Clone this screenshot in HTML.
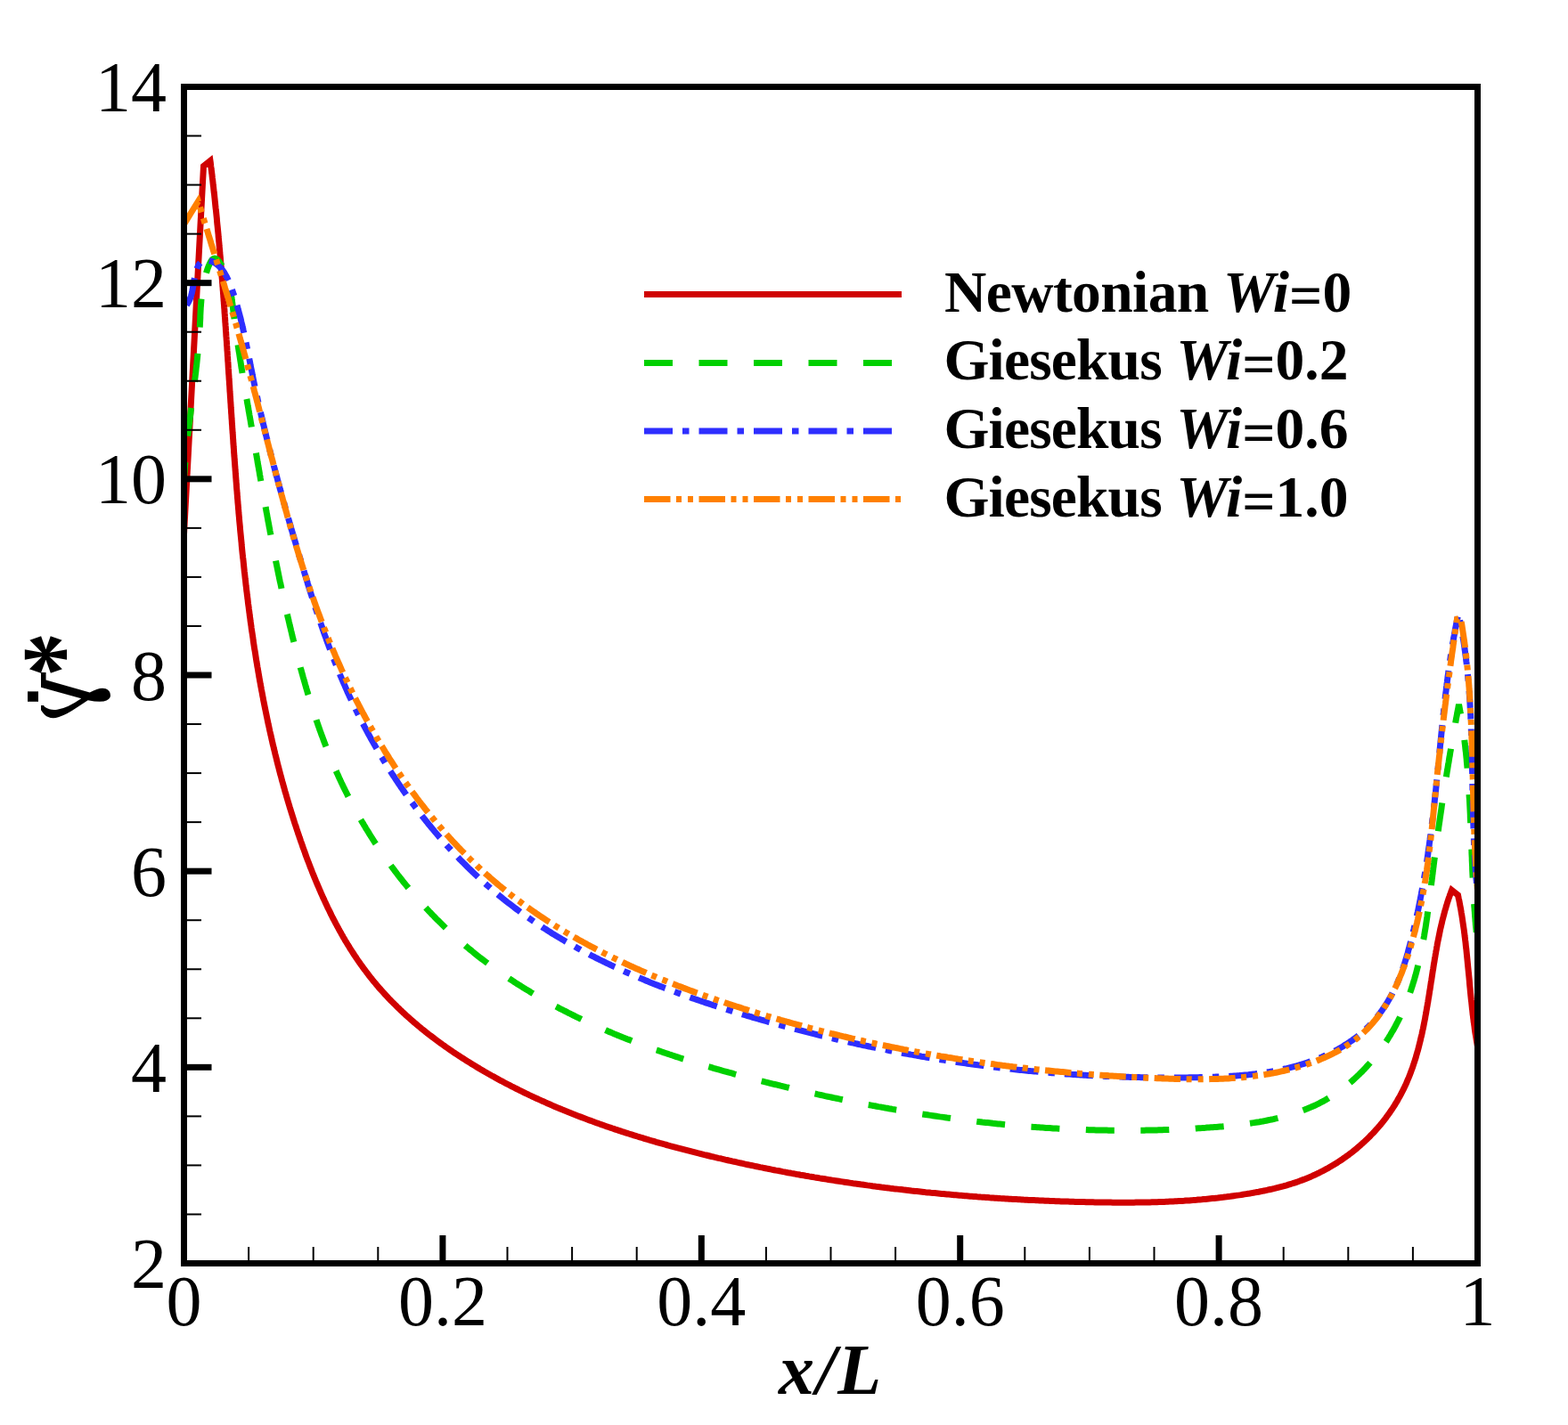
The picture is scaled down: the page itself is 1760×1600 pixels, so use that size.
<!DOCTYPE html>
<html><head><meta charset="utf-8"><style>
html,body{margin:0;padding:0;background:#fff;}
svg{display:block;}
.tl{font-family:"Liberation Serif","Times New Roman",serif;font-size:80px;fill:#000;}
.lg{font-family:"Liberation Serif","Times New Roman",serif;font-weight:bold;font-size:65.5px;fill:#000;}
.ax{font-family:"Liberation Serif","Times New Roman",serif;font-weight:bold;font-style:italic;font-size:80px;fill:#000;}
.yt{font-family:"Liberation Serif","Times New Roman",serif;font-weight:bold;font-size:80px;fill:#000;}
</style></head><body>
<svg width="1760" height="1600" viewBox="0 0 1760 1600">
<rect width="1760" height="1600" fill="#fff"/>
<defs><clipPath id="pc"><rect x="206.5" y="97.5" width="1452" height="1321"/></clipPath></defs>
<g clip-path="url(#pc)" fill="none" stroke-width="7" stroke-linejoin="miter" stroke-linecap="butt">
<path d="M206.5 600.0 L217.5 394.0 L228.5 186.5 L236.0 180.5 L236.3 182.5 L236.5 184.4 L236.7 186.4 L237.0 188.4 L237.2 190.4 L237.5 192.3 L237.7 194.3 L238.0 196.3 L238.2 198.3 L238.4 200.2 L238.7 202.2 L238.9 204.2 L239.1 206.2 L239.3 208.1 L239.6 210.1 L239.8 212.1 L240.0 214.1 L240.2 216.1 L240.5 218.0 L240.7 220.0 L240.9 222.0 L241.1 224.0 L241.3 226.0 L241.5 227.9 L241.7 229.9 L241.9 231.9 L242.1 233.9 L242.4 235.9 L242.6 237.9 L242.8 239.8 L243.0 241.8 L243.2 243.8 L243.4 245.8 L243.5 247.8 L243.7 249.8 L243.9 251.8 L244.1 253.7 L244.3 255.7 L244.5 257.7 L244.7 259.7 L244.9 261.7 L245.1 263.7 L245.2 265.7 L245.4 267.7 L245.6 269.7 L245.8 271.6 L246.0 273.6 L246.1 275.6 L246.3 277.6 L246.5 279.6 L246.7 281.6 L246.8 283.6 L247.0 285.6 L247.2 287.6 L247.4 289.6 L247.5 291.6 L247.7 293.6 L247.9 295.5 L248.0 297.5 L248.2 299.5 L248.3 301.5 L248.5 303.5 L248.7 305.5 L248.8 307.5 L249.0 309.5 L249.1 311.5 L249.3 313.5 L249.5 315.5 L249.6 317.5 L249.8 319.5 L249.9 321.5 L250.1 323.5 L250.2 325.5 L250.4 327.5 L250.5 329.5 L250.7 331.5 L250.8 333.5 L251.0 335.5 L251.1 337.5 L251.3 339.5 L251.4 341.5 L251.6 343.5 L251.7 345.5 L251.9 347.5 L252.0 349.5 L252.1 351.5 L252.3 353.5 L252.4 355.5 L252.6 357.5 L252.7 359.5 L252.8 361.5 L253.0 363.5 L253.1 365.5 L253.3 367.5 L253.4 369.5 L253.5 371.5 L253.7 373.5 L253.8 375.5 L253.9 377.5 L254.1 379.5 L254.2 381.5 L254.4 383.5 L254.5 385.5 L254.6 387.5 L254.8 389.5 L254.9 391.5 L255.0 393.5 L255.2 395.5 L255.3 397.5 L255.4 399.5 L255.6 401.5 L255.7 403.5 L255.8 405.5 L256.0 407.5 L256.1 409.5 L256.2 411.5 L256.3 413.5 L256.5 415.6 L256.6 417.6 L256.7 419.6 L256.9 421.6 L257.0 423.6 L257.1 425.6 L257.3 427.6 L257.4 429.6 L257.5 431.6 L257.7 433.6 L257.8 435.6 L257.9 437.6 L258.0 439.6 L258.2 441.6 L258.3 443.6 L258.4 445.6 L258.6 447.6 L258.7 449.6 L258.8 451.6 L259.0 453.6 L259.1 455.6 L259.2 457.7 L259.4 459.7 L259.5 461.7 L259.6 463.7 L259.8 465.7 L259.9 467.7 L260.0 469.7 L260.2 471.7 L260.3 473.7 L260.4 475.7 L260.6 477.7 L260.7 479.7 L260.8 481.7 L261.0 483.7 L261.1 485.7 L261.3 487.7 L261.4 489.7 L261.5 491.7 L261.7 493.7 L261.8 495.7 L261.9 497.8 L262.1 499.8 L262.2 501.8 L262.4 503.8 L262.5 505.8 L262.6 507.8 L262.8 509.8 L262.9 511.8 L263.1 513.8 L263.2 515.8 L263.4 517.8 L263.5 519.8 L263.7 521.8 L263.8 523.8 L264.0 525.8 L264.1 527.8 L264.3 529.8 L264.4 531.8 L264.6 533.8 L264.7 535.8 L264.9 537.8 L265.0 539.8 L265.2 541.8 L265.3 543.8 L265.5 545.8 L265.6 547.8 L265.8 549.8 L266.0 551.8 L266.1 553.8 L266.3 555.8 L266.4 557.8 L266.6 559.8 L266.8 561.8 L266.9 563.8 L267.1 565.8 L267.3 567.8 L267.4 569.8 L267.6 571.8 L267.8 573.8 L267.9 575.8 L268.1 577.8 L268.3 579.8 L268.5 581.8 L268.6 583.8 L268.8 585.8 L269.0 587.8 L269.2 589.8 L269.4 591.8 L269.5 593.8 L269.7 595.8 L269.9 597.8 L270.1 599.8 L270.3 601.8 L270.5 603.8 L270.7 605.8 L270.9 607.8 L271.1 609.8 L271.2 611.8 L271.4 613.8 L271.6 615.8 L271.8 617.8 L272.0 619.8 L272.2 621.8 L272.4 623.7 L272.6 625.7 L272.9 627.7 L273.1 629.7 L273.3 631.7 L273.5 633.7 L273.7 635.7 L273.9 637.7 L274.1 639.7 L274.3 641.7 L274.6 643.7 L274.8 645.7 L275.0 647.6 L275.2 649.6 L275.5 651.6 L275.7 653.6 L275.9 655.6 L276.1 657.6 L276.4 659.6 L276.6 661.6 L276.8 663.5 L277.1 665.5 L277.3 667.5 L277.6 669.5 L277.8 671.5 L278.1 673.5 L278.3 675.5 L278.5 677.4 L278.8 679.4 L279.1 681.4 L279.3 683.4 L279.6 685.4 L279.8 687.4 L280.1 689.3 L280.3 691.3 L280.6 693.3 L280.9 695.3 L281.1 697.3 L281.4 699.2 L281.7 701.2 L282.0 703.2 L282.2 705.2 L282.5 707.2 L282.8 709.1 L283.1 711.1 L283.4 713.1 L283.7 715.1 L284.0 717.0 L284.2 719.0 L284.5 721.0 L284.8 723.0 L285.1 724.9 L285.4 726.9 L285.7 728.9 L286.1 730.9 L286.4 732.8 L286.7 734.8 L287.0 736.8 L287.3 738.7 L287.6 740.7 L287.9 742.7 L288.3 744.7 L288.6 746.6 L288.9 748.6 L289.3 750.6 L289.6 752.5 L289.9 754.5 L290.3 756.5 L290.6 758.4 L290.9 760.4 L291.3 762.4 L291.6 764.3 L292.0 766.3 L292.3 768.2 L292.7 770.2 L293.1 772.2 L293.4 774.1 L293.8 776.1 L294.2 778.0 L294.5 780.0 L294.9 782.0 L295.3 783.9 L295.6 785.9 L296.0 787.8 L296.4 789.8 L296.8 791.8 L297.2 793.7 L297.6 795.7 L298.0 797.6 L298.4 799.6 L298.8 801.5 L299.2 803.5 L299.6 805.4 L300.0 807.4 L300.4 809.3 L300.8 811.3 L301.2 813.2 L301.7 815.2 L302.1 817.1 L302.5 819.1 L302.9 821.0 L303.4 823.0 L303.8 824.9 L304.3 826.9 L304.7 828.8 L305.1 830.7 L305.6 832.7 L306.0 834.6 L306.5 836.6 L307.0 838.5 L307.4 840.5 L307.9 842.4 L308.4 844.3 L308.8 846.3 L309.3 848.2 L309.8 850.1 L310.3 852.1 L310.7 854.0 L311.2 855.9 L311.7 857.9 L312.2 859.8 L312.7 861.7 L313.2 863.7 L313.7 865.6 L314.2 867.5 L314.7 869.5 L315.3 871.4 L315.8 873.3 L316.3 875.3 L316.8 877.2 L317.4 879.1 L317.9 881.0 L318.4 883.0 L319.0 884.9 L319.5 886.8 L320.0 888.7 L320.6 890.6 L321.2 892.6 L321.7 894.5 L322.3 896.4 L322.8 898.3 L323.4 900.2 L324.0 902.2 L324.6 904.1 L325.1 906.0 L325.7 907.9 L326.3 909.8 L326.9 911.7 L327.5 913.6 L328.1 915.6 L328.7 917.5 L329.3 919.4 L329.9 921.3 L330.5 923.2 L331.1 925.1 L331.8 927.0 L332.4 928.9 L333.0 930.8 L333.6 932.7 L334.3 934.6 L334.9 936.5 L335.6 938.4 L336.2 940.3 L336.9 942.2 L337.5 944.1 L338.2 946.0 L338.9 947.9 L339.5 949.8 L340.2 951.7 L340.9 953.6 L341.6 955.5 L342.3 957.4 L342.9 959.3 L343.6 961.2 L344.3 963.1 L345.0 964.9 L345.7 966.8 L346.5 968.7 L347.2 970.6 L347.9 972.5 L348.6 974.4 L349.4 976.2 L350.1 978.1 L350.8 980.0 L351.6 981.9 L352.3 983.7 L353.1 985.6 L353.9 987.5 L354.6 989.3 L355.4 991.2 L356.2 993.0 L357.0 994.9 L357.8 996.7 L358.6 998.6 L359.4 1000.4 L360.2 1002.3 L361.0 1004.1 L361.8 1005.9 L362.6 1007.8 L363.5 1009.6 L364.3 1011.4 L365.2 1013.3 L366.0 1015.1 L366.9 1016.9 L367.7 1018.7 L368.6 1020.5 L369.5 1022.3 L370.4 1024.1 L371.2 1025.9 L372.1 1027.7 L373.0 1029.5 L373.9 1031.3 L374.9 1033.1 L375.8 1034.8 L376.7 1036.6 L377.7 1038.4 L378.6 1040.1 L379.6 1041.9 L380.5 1043.7 L381.5 1045.4 L382.5 1047.1 L383.4 1048.9 L384.4 1050.6 L385.4 1052.4 L386.4 1054.1 L387.4 1055.8 L388.5 1057.5 L389.5 1059.2 L390.5 1060.9 L391.6 1062.6 L392.6 1064.3 L393.7 1066.0 L394.7 1067.7 L395.8 1069.3 L396.9 1071.0 L398.0 1072.7 L399.1 1074.3 L400.2 1076.0 L401.3 1077.6 L402.4 1079.3 L403.6 1080.9 L404.7 1082.5 L405.9 1084.1 L407.0 1085.7 L408.2 1087.3 L409.4 1088.9 L410.6 1090.5 L411.8 1092.1 L413.0 1093.7 L414.2 1095.3 L415.4 1096.8 L416.6 1098.4 L417.9 1099.9 L419.1 1101.5 L420.4 1103.0 L421.7 1104.5 L422.9 1106.0 L424.2 1107.5 L425.5 1109.1 L426.8 1110.5 L428.2 1112.0 L429.5 1113.5 L430.8 1115.0 L432.2 1116.5 L433.5 1117.9 L434.9 1119.4 L436.2 1120.8 L437.6 1122.3 L439.0 1123.7 L440.4 1125.1 L441.8 1126.5 L443.2 1127.9 L444.6 1129.3 L446.0 1130.7 L447.5 1132.1 L448.9 1133.5 L450.4 1134.9 L451.8 1136.2 L453.3 1137.6 L454.7 1139.0 L456.2 1140.3 L457.7 1141.6 L459.2 1143.0 L460.7 1144.3 L462.2 1145.6 L463.7 1146.9 L465.2 1148.3 L466.8 1149.5 L468.3 1150.8 L469.8 1152.1 L471.4 1153.4 L472.9 1154.7 L474.5 1155.9 L476.1 1157.2 L477.6 1158.5 L479.2 1159.7 L480.8 1161.0 L482.4 1162.2 L484.0 1163.4 L485.6 1164.6 L487.2 1165.8 L488.8 1167.1 L490.4 1168.3 L492.0 1169.5 L493.6 1170.6 L495.3 1171.8 L496.9 1173.0 L498.6 1174.2 L500.2 1175.3 L501.9 1176.5 L503.5 1177.6 L505.2 1178.8 L506.8 1179.9 L508.5 1181.1 L510.2 1182.2 L511.9 1183.3 L513.5 1184.4 L515.2 1185.5 L516.9 1186.6 L518.6 1187.7 L520.3 1188.8 L522.0 1189.9 L523.7 1191.0 L525.4 1192.1 L527.1 1193.1 L528.9 1194.2 L530.6 1195.3 L532.3 1196.3 L534.0 1197.3 L535.7 1198.4 L537.5 1199.4 L539.2 1200.4 L541.0 1201.5 L542.7 1202.5 L544.4 1203.5 L546.2 1204.5 L547.9 1205.5 L549.7 1206.5 L551.4 1207.5 L553.2 1208.5 L555.0 1209.4 L556.7 1210.4 L558.5 1211.4 L560.2 1212.3 L562.0 1213.3 L563.8 1214.2 L565.6 1215.2 L567.3 1216.1 L569.1 1217.0 L570.9 1218.0 L572.7 1218.9 L574.4 1219.8 L576.2 1220.7 L578.0 1221.6 L579.8 1222.5 L581.6 1223.4 L583.4 1224.3 L585.2 1225.2 L587.0 1226.1 L588.8 1227.0 L590.6 1227.8 L592.4 1228.7 L594.2 1229.6 L596.0 1230.4 L597.8 1231.3 L599.6 1232.1 L601.5 1233.0 L603.3 1233.8 L605.1 1234.6 L606.9 1235.4 L608.7 1236.3 L610.6 1237.1 L612.4 1237.9 L614.2 1238.7 L616.1 1239.5 L617.9 1240.3 L619.7 1241.1 L621.6 1241.9 L623.4 1242.7 L625.2 1243.5 L627.1 1244.2 L628.9 1245.0 L630.8 1245.8 L632.6 1246.5 L634.5 1247.3 L636.3 1248.0 L638.2 1248.8 L640.0 1249.5 L641.9 1250.3 L643.7 1251.0 L645.6 1251.7 L647.5 1252.5 L649.3 1253.2 L651.2 1253.9 L653.1 1254.6 L654.9 1255.3 L656.8 1256.0 L658.7 1256.7 L660.5 1257.4 L662.4 1258.1 L664.3 1258.8 L666.2 1259.5 L668.1 1260.2 L669.9 1260.9 L671.8 1261.5 L673.7 1262.2 L675.6 1262.9 L677.5 1263.5 L679.4 1264.2 L681.2 1264.9 L683.1 1265.5 L685.0 1266.1 L686.9 1266.8 L688.8 1267.4 L690.7 1268.1 L692.6 1268.7 L694.5 1269.3 L696.4 1269.9 L698.3 1270.6 L700.2 1271.2 L702.1 1271.8 L704.0 1272.4 L705.9 1273.0 L707.8 1273.6 L709.7 1274.2 L711.6 1274.8 L713.6 1275.4 L715.5 1276.0 L717.4 1276.6 L719.3 1277.2 L721.2 1277.7 L723.1 1278.3 L725.0 1278.9 L727.0 1279.5 L728.9 1280.0 L730.8 1280.6 L732.7 1281.1 L734.6 1281.7 L736.6 1282.3 L738.5 1282.8 L740.4 1283.4 L742.3 1283.9 L744.3 1284.4 L746.2 1285.0 L748.1 1285.5 L750.0 1286.0 L752.0 1286.6 L753.9 1287.1 L755.8 1287.6 L757.8 1288.1 L759.7 1288.7 L761.6 1289.2 L763.6 1289.7 L765.5 1290.2 L767.4 1290.7 L769.4 1291.2 L771.3 1291.7 L773.3 1292.2 L775.2 1292.7 L777.1 1293.2 L779.1 1293.7 L781.0 1294.2 L783.0 1294.7 L784.9 1295.1 L786.8 1295.6 L788.8 1296.1 L790.7 1296.6 L792.7 1297.0 L794.6 1297.5 L796.6 1298.0 L798.5 1298.5 L800.5 1298.9 L802.4 1299.4 L804.4 1299.8 L806.3 1300.3 L808.2 1300.7 L810.2 1301.2 L812.1 1301.6 L814.1 1302.1 L816.0 1302.5 L818.0 1303.0 L820.0 1303.4 L821.9 1303.9 L823.9 1304.3 L825.8 1304.7 L827.8 1305.2 L829.7 1305.6 L831.7 1306.0 L833.6 1306.4 L835.6 1306.9 L837.5 1307.3 L839.5 1307.7 L841.4 1308.1 L843.4 1308.5 L845.4 1308.9 L847.3 1309.3 L849.3 1309.7 L851.2 1310.1 L853.2 1310.6 L855.2 1310.9 L857.1 1311.3 L859.1 1311.7 L861.0 1312.1 L863.0 1312.5 L865.0 1312.9 L866.9 1313.3 L868.9 1313.7 L870.9 1314.1 L872.8 1314.4 L874.8 1314.8 L876.7 1315.2 L878.7 1315.6 L880.7 1315.9 L882.6 1316.3 L884.6 1316.7 L886.6 1317.0 L888.5 1317.4 L890.5 1317.7 L892.5 1318.1 L894.4 1318.5 L896.4 1318.8 L898.4 1319.2 L900.3 1319.5 L902.3 1319.8 L904.3 1320.2 L906.3 1320.5 L908.2 1320.9 L910.2 1321.2 L912.2 1321.5 L914.1 1321.9 L916.1 1322.2 L918.1 1322.5 L920.1 1322.9 L922.0 1323.2 L924.0 1323.5 L926.0 1323.8 L928.0 1324.1 L929.9 1324.5 L931.9 1324.8 L933.9 1325.1 L935.9 1325.4 L937.8 1325.7 L939.8 1326.0 L941.8 1326.3 L943.8 1326.6 L945.7 1326.9 L947.7 1327.2 L949.7 1327.5 L951.7 1327.8 L953.7 1328.1 L955.6 1328.4 L957.6 1328.7 L959.6 1328.9 L961.6 1329.2 L963.6 1329.5 L965.5 1329.8 L967.5 1330.1 L969.5 1330.3 L971.5 1330.6 L973.5 1330.9 L975.4 1331.1 L977.4 1331.4 L979.4 1331.7 L981.4 1331.9 L983.4 1332.2 L985.4 1332.4 L987.3 1332.7 L989.3 1333.0 L991.3 1333.2 L993.3 1333.5 L995.3 1333.7 L997.3 1333.9 L999.3 1334.2 L1001.2 1334.4 L1003.2 1334.7 L1005.2 1334.9 L1007.2 1335.1 L1009.2 1335.4 L1011.2 1335.6 L1013.2 1335.8 L1015.2 1336.1 L1017.1 1336.3 L1019.1 1336.5 L1021.1 1336.7 L1023.1 1337.0 L1025.1 1337.2 L1027.1 1337.4 L1029.1 1337.6 L1031.1 1337.8 L1033.1 1338.0 L1035.0 1338.2 L1037.0 1338.4 L1039.0 1338.7 L1041.0 1338.9 L1043.0 1339.1 L1045.0 1339.3 L1047.0 1339.4 L1049.0 1339.6 L1051.0 1339.8 L1053.0 1340.0 L1055.0 1340.2 L1057.0 1340.4 L1059.0 1340.6 L1060.9 1340.8 L1062.9 1341.0 L1064.9 1341.1 L1066.9 1341.3 L1068.9 1341.5 L1070.9 1341.7 L1072.9 1341.8 L1074.9 1342.0 L1076.9 1342.2 L1078.9 1342.3 L1080.9 1342.5 L1082.9 1342.7 L1084.9 1342.8 L1086.9 1343.0 L1088.9 1343.2 L1090.9 1343.3 L1092.9 1343.5 L1094.9 1343.6 L1096.9 1343.8 L1098.9 1343.9 L1100.8 1344.1 L1102.8 1344.2 L1104.8 1344.3 L1106.8 1344.5 L1108.8 1344.6 L1110.8 1344.8 L1112.8 1344.9 L1114.8 1345.0 L1116.8 1345.2 L1118.8 1345.3 L1120.8 1345.4 L1122.8 1345.6 L1124.8 1345.7 L1126.8 1345.8 L1128.8 1345.9 L1130.8 1346.0 L1132.8 1346.2 L1134.8 1346.3 L1136.8 1346.4 L1138.8 1346.5 L1140.8 1346.6 L1142.8 1346.7 L1144.8 1346.8 L1146.8 1346.9 L1148.8 1347.1 L1150.8 1347.2 L1152.8 1347.3 L1154.8 1347.4 L1156.8 1347.5 L1158.8 1347.6 L1160.8 1347.6 L1162.8 1347.7 L1164.8 1347.8 L1166.8 1347.9 L1168.8 1348.0 L1170.8 1348.1 L1172.8 1348.2 L1174.8 1348.3 L1176.8 1348.3 L1178.8 1348.4 L1180.8 1348.5 L1182.8 1348.6 L1184.8 1348.7 L1186.8 1348.7 L1188.8 1348.8 L1190.8 1348.9 L1192.8 1348.9 L1194.8 1349.0 L1196.8 1349.1 L1198.8 1349.1 L1200.8 1349.2 L1202.8 1349.2 L1204.8 1349.3 L1206.8 1349.4 L1208.8 1349.4 L1210.9 1349.5 L1212.9 1349.5 L1214.9 1349.6 L1216.9 1349.6 L1218.9 1349.7 L1220.9 1349.7 L1222.9 1349.8 L1224.9 1349.8 L1226.9 1349.8 L1228.9 1349.9 L1230.9 1349.9 L1232.9 1350.0 L1234.9 1350.0 L1236.9 1350.0 L1238.9 1350.0 L1240.9 1350.1 L1242.9 1350.1 L1244.9 1350.1 L1246.9 1350.1 L1248.9 1350.2 L1250.9 1350.2 L1252.9 1350.2 L1254.9 1350.2 L1256.9 1350.2 L1258.9 1350.2 L1260.9 1350.2 L1262.9 1350.2 L1264.9 1350.2 L1266.9 1350.2 L1268.9 1350.2 L1270.9 1350.2 L1272.9 1350.2 L1274.9 1350.1 L1276.9 1350.1 L1278.9 1350.1 L1280.9 1350.1 L1282.9 1350.0 L1284.9 1350.0 L1286.9 1350.0 L1288.9 1349.9 L1290.9 1349.9 L1292.9 1349.8 L1294.9 1349.8 L1296.9 1349.7 L1298.9 1349.7 L1300.9 1349.6 L1302.9 1349.5 L1304.9 1349.5 L1306.9 1349.4 L1308.9 1349.3 L1310.9 1349.2 L1312.9 1349.1 L1314.9 1349.0 L1316.9 1348.9 L1318.9 1348.8 L1321.0 1348.7 L1323.0 1348.6 L1325.0 1348.5 L1327.0 1348.4 L1329.0 1348.3 L1331.0 1348.1 L1333.0 1348.0 L1335.0 1347.9 L1337.0 1347.7 L1339.0 1347.6 L1341.0 1347.4 L1343.0 1347.3 L1344.9 1347.1 L1346.9 1346.9 L1348.9 1346.8 L1350.9 1346.6 L1352.9 1346.4 L1354.9 1346.2 L1356.9 1346.0 L1358.9 1345.8 L1360.9 1345.6 L1362.9 1345.4 L1364.9 1345.2 L1366.9 1345.0 L1368.9 1344.7 L1370.9 1344.5 L1372.9 1344.3 L1374.9 1344.0 L1376.9 1343.8 L1378.9 1343.5 L1380.9 1343.3 L1382.9 1343.0 L1384.9 1342.7 L1386.9 1342.4 L1388.9 1342.1 L1390.9 1341.9 L1392.9 1341.6 L1394.9 1341.2 L1396.9 1340.9 L1398.9 1340.6 L1400.9 1340.3 L1402.9 1340.0 L1404.9 1339.6 L1406.9 1339.3 L1408.9 1338.9 L1410.8 1338.5 L1412.8 1338.2 L1414.8 1337.8 L1416.8 1337.4 L1418.8 1337.0 L1420.8 1336.6 L1422.8 1336.2 L1424.7 1335.7 L1426.7 1335.3 L1428.7 1334.8 L1430.6 1334.4 L1432.6 1333.9 L1434.6 1333.4 L1436.5 1332.9 L1438.5 1332.4 L1440.4 1331.9 L1442.4 1331.3 L1444.3 1330.8 L1446.2 1330.2 L1448.1 1329.6 L1450.1 1329.0 L1452.0 1328.4 L1453.9 1327.8 L1455.8 1327.2 L1457.7 1326.5 L1459.5 1325.8 L1461.4 1325.1 L1463.3 1324.4 L1465.1 1323.7 L1467.0 1322.9 L1468.8 1322.2 L1470.7 1321.4 L1472.5 1320.6 L1474.3 1319.8 L1476.1 1319.0 L1477.9 1318.1 L1479.7 1317.3 L1481.5 1316.4 L1483.3 1315.5 L1485.0 1314.6 L1486.8 1313.7 L1488.5 1312.7 L1490.3 1311.8 L1492.0 1310.8 L1493.7 1309.8 L1495.4 1308.8 L1497.1 1307.8 L1498.8 1306.7 L1500.5 1305.7 L1502.1 1304.6 L1503.8 1303.6 L1505.4 1302.5 L1507.1 1301.4 L1508.7 1300.2 L1510.3 1299.1 L1511.9 1297.9 L1513.5 1296.8 L1515.1 1295.6 L1516.6 1294.4 L1518.2 1293.2 L1519.7 1292.0 L1521.3 1290.7 L1522.8 1289.5 L1524.3 1288.2 L1525.8 1286.9 L1527.3 1285.6 L1528.7 1284.3 L1530.2 1283.0 L1531.6 1281.7 L1533.1 1280.3 L1534.5 1279.0 L1535.9 1277.6 L1537.3 1276.2 L1538.6 1274.8 L1540.0 1273.4 L1541.4 1272.0 L1542.7 1270.6 L1544.0 1269.1 L1545.3 1267.7 L1546.6 1266.2 L1547.9 1264.7 L1549.2 1263.2 L1550.4 1261.7 L1551.7 1260.2 L1552.9 1258.7 L1554.1 1257.1 L1555.3 1255.6 L1556.4 1254.0 L1557.6 1252.4 L1558.8 1250.8 L1559.9 1249.2 L1561.0 1247.6 L1562.1 1246.0 L1563.2 1244.4 L1564.3 1242.7 L1565.3 1241.1 L1566.3 1239.4 L1567.4 1237.7 L1568.4 1236.0 L1569.3 1234.3 L1570.3 1232.6 L1571.3 1230.9 L1572.2 1229.2 L1573.1 1227.4 L1574.0 1225.7 L1574.9 1223.9 L1575.8 1222.2 L1576.6 1220.4 L1577.5 1218.6 L1578.3 1216.8 L1579.1 1215.0 L1579.8 1213.2 L1580.6 1211.4 L1581.4 1209.5 L1582.1 1207.7 L1582.8 1205.9 L1583.5 1204.0 L1584.2 1202.1 L1584.9 1200.3 L1585.6 1198.4 L1586.2 1196.5 L1586.8 1194.6 L1587.5 1192.7 L1588.1 1190.8 L1588.7 1188.9 L1589.3 1187.0 L1589.8 1185.0 L1590.4 1183.1 L1590.9 1181.2 L1591.5 1179.2 L1592.0 1177.3 L1592.5 1175.3 L1593.0 1173.3 L1593.5 1171.4 L1594.0 1169.4 L1594.5 1167.4 L1594.9 1165.4 L1595.4 1163.5 L1595.9 1161.5 L1596.3 1159.5 L1596.7 1157.5 L1597.2 1155.5 L1597.6 1153.5 L1598.0 1151.5 L1598.4 1149.4 L1598.8 1147.4 L1599.2 1145.4 L1599.6 1143.4 L1599.9 1141.4 L1600.3 1139.3 L1600.7 1137.3 L1601.0 1135.3 L1601.4 1133.2 L1601.7 1131.2 L1602.1 1129.2 L1602.4 1127.1 L1602.8 1125.1 L1603.1 1123.0 L1603.4 1121.0 L1603.8 1119.0 L1604.1 1116.9 L1604.4 1114.9 L1604.7 1112.8 L1605.1 1110.8 L1605.4 1108.7 L1605.7 1106.7 L1606.0 1104.7 L1606.3 1102.6 L1606.7 1100.6 L1607.0 1098.5 L1607.3 1096.5 L1607.6 1094.4 L1607.9 1092.4 L1608.2 1090.4 L1608.6 1088.3 L1608.9 1086.3 L1609.2 1084.3 L1609.5 1082.2 L1609.9 1080.2 L1610.2 1078.2 L1610.5 1076.2 L1610.9 1074.1 L1611.2 1072.1 L1611.6 1070.1 L1611.9 1068.1 L1612.3 1066.1 L1612.6 1064.1 L1613.0 1062.1 L1613.3 1060.1 L1613.7 1058.1 L1614.1 1056.1 L1614.5 1054.2 L1614.9 1052.2 L1615.3 1050.2 L1615.7 1048.3 L1616.1 1046.3 L1616.5 1044.3 L1616.9 1042.4 L1617.4 1040.4 L1617.8 1038.5 L1618.3 1036.6 L1618.7 1034.7 L1619.2 1032.7 L1619.7 1030.8 L1620.2 1028.9 L1620.7 1027.0 L1621.2 1025.1 L1621.7 1023.2 L1622.2 1021.4 L1622.8 1019.5 L1623.3 1017.6 L1623.9 1015.8 L1624.4 1013.9 L1625.0 1012.1 L1625.6 1010.3 L1626.2 1008.5 L1626.9 1006.6 L1627.5 1004.8 L1628.2 1003.1 L1628.8 1001.3 L1629.5 999.5 L1636.5 1005.0 L1636.9 1007.0 L1637.3 1009.0 L1637.8 1011.0 L1638.2 1013.0 L1638.5 1015.0 L1638.9 1017.0 L1639.3 1019.0 L1639.7 1021.0 L1640.0 1023.1 L1640.3 1025.1 L1640.7 1027.1 L1641.0 1029.1 L1641.3 1031.1 L1641.6 1033.1 L1641.9 1035.2 L1642.2 1037.2 L1642.5 1039.2 L1642.8 1041.2 L1643.1 1043.2 L1643.4 1045.3 L1643.6 1047.3 L1643.9 1049.3 L1644.1 1051.3 L1644.4 1053.4 L1644.6 1055.4 L1644.9 1057.4 L1645.1 1059.4 L1645.3 1061.5 L1645.5 1063.5 L1645.8 1065.5 L1646.0 1067.5 L1646.2 1069.6 L1646.4 1071.6 L1646.6 1073.6 L1646.8 1075.7 L1647.0 1077.7 L1647.2 1079.7 L1647.4 1081.8 L1647.6 1083.8 L1647.8 1085.8 L1648.0 1087.9 L1648.2 1089.9 L1648.4 1091.9 L1648.6 1094.0 L1648.8 1096.0 L1649.0 1098.0 L1649.2 1100.1 L1649.4 1102.1 L1649.5 1104.1 L1649.7 1106.2 L1649.9 1108.2 L1650.1 1110.2 L1650.3 1112.3 L1650.5 1114.3 L1650.7 1116.3 L1650.9 1118.4 L1651.1 1120.4 L1651.3 1122.4 L1651.6 1124.5 L1651.8 1126.5 L1652.0 1128.5 L1652.2 1130.5 L1652.4 1132.6 L1652.7 1134.6 L1652.9 1136.6 L1653.1 1138.7 L1653.4 1140.7 L1653.6 1142.7 L1653.9 1144.7 L1654.1 1146.8 L1654.4 1148.8 L1654.7 1150.8 L1655.0 1152.8 L1655.2 1154.8 L1655.5 1156.9 L1655.8 1158.9 L1656.1 1160.9 L1656.5 1162.9 L1656.8 1164.9 L1657.1 1167.0 L1657.4 1169.0 L1657.8 1171.0 L1658.1 1173.0 L1658.5 1175.0" stroke="#d00000"/>
<path d="M206.5 540.0 L206.6 538.0 L206.7 536.0 L206.8 534.0 L206.9 532.0 L207.1 530.0 L207.2 528.0 L207.3 526.1 L207.5 524.1 L207.6 522.1 L207.8 520.1 L207.9 518.1 L208.1 516.1 L208.3 514.1 L208.5 512.1 L208.6 510.1 L208.8 508.1 L209.0 506.1 L209.2 504.1 L209.4 502.1 L209.6 500.1 L209.8 498.2 L210.1 496.2 L210.3 494.2 L210.5 492.2 L210.7 490.2 L210.9 488.2 L211.2 486.2 L211.4 484.2 L211.6 482.2 L211.9 480.2 L212.1 478.2 L212.4 476.2 L212.6 474.2 L212.9 472.2 L213.1 470.2 L213.4 468.2 L213.6 466.3 L213.9 464.3 L214.1 462.3 L214.4 460.3 L214.6 458.3 L214.9 456.3 L215.2 454.3 L215.4 452.3 L215.7 450.3 L215.9 448.3 L216.2 446.3 L216.4 444.3 L216.7 442.3 L217.0 440.3 L217.2 438.4 L217.5 436.4 L217.7 434.4 L218.0 432.4 L218.2 430.4 L218.5 428.4 L218.7 426.4 L218.9 424.4 L219.2 422.4 L219.4 420.4 L219.7 418.4 L219.9 416.4 L220.1 414.5 L220.3 412.5 L220.6 410.5 L220.8 408.5 L221.0 406.5 L221.2 404.5 L221.4 402.5 L221.6 400.5 L221.8 398.5 L222.0 396.6 L222.2 394.6 L222.4 392.6 L222.6 390.6 L222.8 388.6 L222.9 386.6 L223.1 384.6 L223.3 382.6 L223.4 380.7 L223.5 378.7 L223.7 376.7 L223.8 374.7 L224.0 372.7 L224.1 370.7 L224.2 368.7 L224.3 366.8 L224.4 364.8 L224.5 362.8 L224.6 360.8 L224.7 358.8 L224.8 356.8 L224.8 354.8 L224.9 352.9 L225.0 350.9 L225.1 348.9 L225.2 346.9 L225.3 344.9 L225.5 342.9 L225.6 340.9 L225.8 338.9 L225.9 336.9 L226.1 334.9 L226.3 332.9 L226.6 330.9 L226.8 328.9 L227.1 326.8 L227.4 324.8 L227.7 322.8 L228.1 320.7 L228.5 318.7 L228.9 316.7 L229.3 314.6 L229.8 312.6 L230.4 310.5 L230.9 308.4 L231.5 306.4 L232.2 304.3 L232.9 302.2 L233.6 300.1 L234.4 298.1 L235.3 296.3 L236.1 294.5 L237.0 293.0 L238.0 291.8 L239.0 290.9 L240.0 290.3 L241.1 290.1 L242.2 290.4 L243.3 291.0 L244.5 292.0 L245.6 293.3 L246.7 294.8 L247.8 296.5 L248.9 298.2 L249.9 300.1 L250.8 301.9 L251.7 303.8 L252.5 305.7 L253.3 307.6 L254.0 309.5 L254.7 311.4 L255.4 313.3 L255.9 315.3 L256.5 317.2 L257.0 319.2 L257.5 321.1 L257.9 323.1 L258.4 325.1 L258.7 327.0 L259.1 329.0 L259.4 331.0 L259.8 333.0 L260.1 335.0 L260.3 337.0 L260.6 339.0 L260.9 341.0 L261.1 343.0 L261.4 345.0 L261.6 347.0 L261.9 349.0 L262.1 351.0 L262.4 353.0 L262.6 355.1 L262.9 357.1 L263.1 359.1 L263.4 361.1 L263.7 363.1 L263.9 365.1 L264.2 367.1 L264.5 369.1 L264.8 371.0 L265.0 373.0 L265.3 375.0 L265.6 377.0 L265.9 379.0 L266.2 381.0 L266.5 383.0 L266.8 385.0 L267.0 387.0 L267.3 389.0 L267.6 391.0 L267.9 392.9 L268.2 394.9 L268.6 396.9 L268.9 398.9 L269.2 400.9 L269.5 402.9 L269.8 404.9 L270.1 406.8 L270.4 408.8 L270.7 410.8 L271.0 412.8 L271.4 414.8 L271.7 416.7 L272.0 418.7 L272.3 420.7 L272.7 422.7 L273.0 424.7 L273.3 426.6 L273.6 428.6 L274.0 430.6 L274.3 432.6 L274.6 434.5 L275.0 436.5 L275.3 438.5 L275.6 440.5 L276.0 442.4 L276.3 444.4 L276.6 446.4 L277.0 448.4 L277.3 450.3 L277.6 452.3 L278.0 454.3 L278.3 456.2 L278.7 458.2 L279.0 460.2 L279.3 462.2 L279.7 464.1 L280.0 466.1 L280.4 468.1 L280.7 470.0 L281.1 472.0 L281.4 474.0 L281.7 476.0 L282.1 477.9 L282.4 479.9 L282.8 481.9 L283.1 483.8 L283.4 485.8 L283.8 487.8 L284.1 489.8 L284.5 491.7 L284.8 493.7 L285.1 495.7 L285.5 497.6 L285.8 499.6 L286.2 501.6 L286.5 503.6 L286.8 505.5 L287.2 507.5 L287.5 509.5 L287.9 511.4 L288.2 513.4 L288.6 515.4 L288.9 517.3 L289.2 519.3 L289.6 521.3 L289.9 523.3 L290.3 525.2 L290.6 527.2 L291.0 529.2 L291.3 531.1 L291.6 533.1 L292.0 535.1 L292.3 537.1 L292.7 539.0 L293.0 541.0 L293.4 543.0 L293.7 544.9 L294.1 546.9 L294.4 548.9 L294.8 550.8 L295.1 552.8 L295.5 554.8 L295.8 556.7 L296.2 558.7 L296.5 560.7 L296.9 562.7 L297.2 564.6 L297.6 566.6 L298.0 568.6 L298.3 570.5 L298.7 572.5 L299.0 574.5 L299.4 576.4 L299.8 578.4 L300.1 580.4 L300.5 582.3 L300.8 584.3 L301.2 586.3 L301.6 588.2 L301.9 590.2 L302.3 592.2 L302.7 594.1 L303.0 596.1 L303.4 598.1 L303.8 600.0 L304.2 602.0 L304.5 604.0 L304.9 605.9 L305.3 607.9 L305.7 609.9 L306.0 611.8 L306.4 613.8 L306.8 615.8 L307.2 617.7 L307.6 619.7 L308.0 621.6 L308.3 623.6 L308.7 625.6 L309.1 627.5 L309.5 629.5 L309.9 631.5 L310.3 633.4 L310.7 635.4 L311.1 637.3 L311.5 639.3 L311.9 641.3 L312.3 643.2 L312.7 645.2 L313.1 647.1 L313.5 649.1 L313.9 651.1 L314.3 653.0 L314.8 655.0 L315.2 656.9 L315.6 658.9 L316.0 660.9 L316.4 662.8 L316.8 664.8 L317.3 666.7 L317.7 668.7 L318.1 670.6 L318.5 672.6 L319.0 674.6 L319.4 676.5 L319.8 678.5 L320.3 680.4 L320.7 682.4 L321.2 684.3 L321.6 686.3 L322.0 688.2 L322.5 690.2 L322.9 692.1 L323.4 694.1 L323.9 696.1 L324.3 698.0 L324.8 700.0 L325.2 701.9 L325.7 703.9 L326.2 705.8 L326.6 707.8 L327.1 709.7 L327.6 711.7 L328.0 713.6 L328.5 715.6 L329.0 717.5 L329.5 719.5 L330.0 721.4 L330.4 723.3 L330.9 725.3 L331.4 727.2 L331.9 729.2 L332.4 731.1 L332.9 733.1 L333.4 735.0 L333.9 737.0 L334.4 738.9 L334.9 740.8 L335.4 742.8 L336.0 744.7 L336.5 746.7 L337.0 748.6 L337.5 750.5 L338.1 752.5 L338.6 754.4 L339.1 756.4 L339.7 758.3 L340.2 760.2 L340.8 762.2 L341.3 764.1 L341.9 766.0 L342.4 767.9 L343.0 769.9 L343.5 771.8 L344.1 773.7 L344.7 775.7 L345.2 777.6 L345.8 779.5 L346.4 781.4 L347.0 783.3 L347.6 785.3 L348.2 787.2 L348.8 789.1 L349.4 791.0 L350.0 792.9 L350.6 794.8 L351.2 796.7 L351.8 798.6 L352.5 800.5 L353.1 802.4 L353.7 804.3 L354.4 806.3 L355.0 808.1 L355.6 810.0 L356.3 811.9 L356.9 813.8 L357.6 815.7 L358.3 817.6 L358.9 819.5 L359.6 821.4 L360.3 823.3 L361.0 825.2 L361.7 827.0 L362.4 828.9 L363.1 830.8 L363.8 832.7 L364.5 834.5 L365.2 836.4 L365.9 838.3 L366.6 840.1 L367.4 842.0 L368.1 843.9 L368.9 845.7 L369.6 847.6 L370.4 849.4 L371.1 851.3 L371.9 853.1 L372.7 855.0 L373.4 856.8 L374.2 858.6 L375.0 860.5 L375.8 862.3 L376.6 864.2 L377.4 866.0 L378.2 867.8 L379.0 869.6 L379.9 871.5 L380.7 873.3 L381.5 875.1 L382.4 876.9 L383.2 878.7 L384.1 880.5 L384.9 882.3 L385.8 884.1 L386.7 885.9 L387.6 887.7 L388.5 889.5 L389.4 891.3 L390.3 893.1 L391.2 894.9 L392.1 896.6 L393.0 898.4 L393.9 900.2 L394.9 902.0 L395.8 903.7 L396.7 905.5 L397.7 907.3 L398.7 909.0 L399.6 910.8 L400.6 912.5 L401.6 914.3 L402.6 916.0 L403.5 917.7 L404.5 919.5 L405.5 921.2 L406.5 922.9 L407.6 924.7 L408.6 926.4 L409.6 928.1 L410.6 929.8 L411.7 931.5 L412.7 933.2 L413.8 934.9 L414.8 936.6 L415.9 938.3 L417.0 940.0 L418.0 941.7 L419.1 943.4 L420.2 945.1 L421.3 946.8 L422.4 948.4 L423.5 950.1 L424.6 951.8 L425.7 953.4 L426.9 955.1 L428.0 956.7 L429.1 958.4 L430.3 960.0 L431.4 961.7 L432.6 963.3 L433.7 964.9 L434.9 966.6 L436.1 968.2 L437.2 969.8 L438.4 971.4 L439.6 973.0 L440.8 974.6 L442.0 976.2 L443.2 977.8 L444.4 979.4 L445.6 981.0 L446.8 982.6 L448.1 984.2 L449.3 985.8 L450.5 987.3 L451.8 988.9 L453.0 990.5 L454.3 992.0 L455.6 993.6 L456.8 995.1 L458.1 996.6 L459.4 998.2 L460.7 999.7 L462.0 1001.2 L463.3 1002.8 L464.6 1004.3 L465.9 1005.8 L467.2 1007.3 L468.5 1008.8 L469.8 1010.3 L471.2 1011.8 L472.5 1013.3 L473.8 1014.8 L475.2 1016.3 L476.5 1017.7 L477.9 1019.2 L479.2 1020.7 L480.6 1022.1 L482.0 1023.6 L483.4 1025.0 L484.7 1026.5 L486.1 1027.9 L487.5 1029.3 L488.9 1030.8 L490.3 1032.2 L491.8 1033.6 L493.2 1035.0 L494.6 1036.4 L496.0 1037.8 L497.5 1039.2 L498.9 1040.6 L500.3 1042.0 L501.8 1043.3 L503.2 1044.7 L504.7 1046.1 L506.2 1047.4 L507.6 1048.8 L509.1 1050.1 L510.6 1051.5 L512.1 1052.8 L513.6 1054.2 L515.1 1055.5 L516.6 1056.8 L518.1 1058.1 L519.6 1059.4 L521.1 1060.7 L522.6 1062.0 L524.1 1063.3 L525.7 1064.6 L527.2 1065.9 L528.8 1067.1 L530.3 1068.4 L531.9 1069.7 L533.4 1070.9 L535.0 1072.2 L536.5 1073.4 L538.1 1074.7 L539.7 1075.9 L541.3 1077.1 L542.9 1078.3 L544.5 1079.5 L546.1 1080.7 L547.7 1081.9 L549.3 1083.1 L550.9 1084.3 L552.5 1085.5 L554.1 1086.7 L555.7 1087.8 L557.4 1089.0 L559.0 1090.2 L560.6 1091.3 L562.3 1092.5 L563.9 1093.6 L565.6 1094.7 L567.2 1095.9 L568.9 1097.0 L570.5 1098.1 L572.2 1099.2 L573.9 1100.3 L575.6 1101.4 L577.2 1102.5 L578.9 1103.6 L580.6 1104.7 L582.3 1105.8 L584.0 1106.8 L585.7 1107.9 L587.4 1109.0 L589.1 1110.0 L590.8 1111.1 L592.5 1112.1 L594.2 1113.1 L595.9 1114.2 L597.7 1115.2 L599.4 1116.2 L601.1 1117.2 L602.9 1118.3 L604.6 1119.3 L606.3 1120.3 L608.1 1121.3 L609.8 1122.2 L611.6 1123.2 L613.3 1124.2 L615.1 1125.2 L616.8 1126.1 L618.6 1127.1 L620.4 1128.1 L622.1 1129.0 L623.9 1130.0 L625.7 1130.9 L627.4 1131.8 L629.2 1132.8 L631.0 1133.7 L632.8 1134.6 L634.6 1135.5 L636.4 1136.4 L638.1 1137.3 L639.9 1138.2 L641.7 1139.1 L643.5 1140.0 L645.3 1140.9 L647.1 1141.8 L648.9 1142.7 L650.7 1143.5 L652.6 1144.4 L654.4 1145.3 L656.2 1146.1 L658.0 1147.0 L659.8 1147.8 L661.6 1148.6 L663.5 1149.5 L665.3 1150.3 L667.1 1151.1 L668.9 1152.0 L670.8 1152.8 L672.6 1153.6 L674.4 1154.4 L676.3 1155.2 L678.1 1156.0 L679.9 1156.8 L681.8 1157.6 L683.6 1158.4 L685.5 1159.1 L687.3 1159.9 L689.1 1160.7 L691.0 1161.4 L692.8 1162.2 L694.7 1163.0 L696.6 1163.7 L698.4 1164.5 L700.3 1165.2 L702.1 1165.9 L704.0 1166.7 L705.9 1167.4 L707.7 1168.1 L709.6 1168.9 L711.5 1169.6 L713.3 1170.3 L715.2 1171.0 L717.1 1171.7 L718.9 1172.4 L720.8 1173.1 L722.7 1173.8 L724.6 1174.5 L726.5 1175.2 L728.3 1175.9 L730.2 1176.6 L732.1 1177.2 L734.0 1177.9 L735.9 1178.6 L737.8 1179.2 L739.7 1179.9 L741.5 1180.5 L743.4 1181.2 L745.3 1181.9 L747.2 1182.5 L749.1 1183.1 L751.0 1183.8 L752.9 1184.4 L754.8 1185.0 L756.7 1185.7 L758.6 1186.3 L760.5 1186.9 L762.4 1187.5 L764.3 1188.2 L766.3 1188.8 L768.2 1189.4 L770.1 1190.0 L772.0 1190.6 L773.9 1191.2 L775.8 1191.8 L777.7 1192.4 L779.6 1193.0 L781.6 1193.6 L783.5 1194.1 L785.4 1194.7 L787.3 1195.3 L789.2 1195.9 L791.1 1196.4 L793.1 1197.0 L795.0 1197.6 L796.9 1198.1 L798.8 1198.7 L800.8 1199.3 L802.7 1199.8 L804.6 1200.4 L806.6 1200.9 L808.5 1201.5 L810.4 1202.0 L812.3 1202.6 L814.3 1203.1 L816.2 1203.6 L818.1 1204.2 L820.1 1204.7 L822.0 1205.2 L823.9 1205.8 L825.9 1206.3 L827.8 1206.8 L829.8 1207.3 L831.7 1207.8 L833.6 1208.4 L835.6 1208.9 L837.5 1209.4 L839.4 1209.9 L841.4 1210.4 L843.3 1210.9 L845.3 1211.4 L847.2 1211.9 L849.2 1212.4 L851.1 1212.9 L853.0 1213.4 L855.0 1213.9 L856.9 1214.4 L858.9 1214.9 L860.8 1215.3 L862.8 1215.8 L864.7 1216.3 L866.7 1216.8 L868.6 1217.3 L870.6 1217.7 L872.5 1218.2 L874.4 1218.7 L876.4 1219.2 L878.3 1219.6 L880.3 1220.1 L882.2 1220.6 L884.2 1221.0 L886.1 1221.5 L888.1 1222.0 L890.0 1222.4 L892.0 1222.9 L893.9 1223.3 L895.9 1223.8 L897.8 1224.2 L899.8 1224.7 L901.7 1225.1 L903.7 1225.6 L905.7 1226.0 L907.6 1226.5 L909.6 1226.9 L911.5 1227.3 L913.5 1227.8 L915.4 1228.2 L917.4 1228.7 L919.3 1229.1 L921.3 1229.5 L923.2 1229.9 L925.2 1230.4 L927.1 1230.8 L929.1 1231.2 L931.1 1231.6 L933.0 1232.0 L935.0 1232.5 L936.9 1232.9 L938.9 1233.3 L940.8 1233.7 L942.8 1234.1 L944.8 1234.5 L946.7 1234.9 L948.7 1235.3 L950.6 1235.7 L952.6 1236.1 L954.6 1236.5 L956.5 1236.9 L958.5 1237.3 L960.4 1237.7 L962.4 1238.1 L964.4 1238.5 L966.3 1238.8 L968.3 1239.2 L970.3 1239.6 L972.2 1240.0 L974.2 1240.4 L976.1 1240.7 L978.1 1241.1 L980.1 1241.5 L982.0 1241.8 L984.0 1242.2 L986.0 1242.6 L987.9 1242.9 L989.9 1243.3 L991.9 1243.6 L993.8 1244.0 L995.8 1244.3 L997.8 1244.7 L999.7 1245.0 L1001.7 1245.4 L1003.7 1245.7 L1005.6 1246.1 L1007.6 1246.4 L1009.6 1246.7 L1011.5 1247.1 L1013.5 1247.4 L1015.5 1247.7 L1017.5 1248.1 L1019.4 1248.4 L1021.4 1248.7 L1023.4 1249.0 L1025.3 1249.4 L1027.3 1249.7 L1029.3 1250.0 L1031.3 1250.3 L1033.2 1250.6 L1035.2 1250.9 L1037.2 1251.2 L1039.2 1251.5 L1041.1 1251.8 L1043.1 1252.1 L1045.1 1252.4 L1047.1 1252.7 L1049.0 1253.0 L1051.0 1253.3 L1053.0 1253.6 L1055.0 1253.9 L1056.9 1254.1 L1058.9 1254.4 L1060.9 1254.7 L1062.9 1255.0 L1064.8 1255.2 L1066.8 1255.5 L1068.8 1255.8 L1070.8 1256.0 L1072.8 1256.3 L1074.7 1256.6 L1076.7 1256.8 L1078.7 1257.1 L1080.7 1257.3 L1082.7 1257.6 L1084.6 1257.8 L1086.6 1258.1 L1088.6 1258.3 L1090.6 1258.6 L1092.6 1258.8 L1094.5 1259.0 L1096.5 1259.3 L1098.5 1259.5 L1100.5 1259.7 L1102.5 1260.0 L1104.5 1260.2 L1106.5 1260.4 L1108.4 1260.6 L1110.4 1260.8 L1112.4 1261.0 L1114.4 1261.3 L1116.4 1261.5 L1118.4 1261.7 L1120.4 1261.9 L1122.3 1262.1 L1124.3 1262.3 L1126.3 1262.5 L1128.3 1262.7 L1130.3 1262.9 L1132.3 1263.0 L1134.3 1263.2 L1136.3 1263.4 L1138.3 1263.6 L1140.2 1263.8 L1142.2 1263.9 L1144.2 1264.1 L1146.2 1264.3 L1148.2 1264.4 L1150.2 1264.6 L1152.2 1264.8 L1154.2 1264.9 L1156.2 1265.1 L1158.2 1265.2 L1160.2 1265.4 L1162.2 1265.5 L1164.2 1265.7 L1166.1 1265.8 L1168.1 1266.0 L1170.1 1266.1 L1172.1 1266.2 L1174.1 1266.4 L1176.1 1266.5 L1178.1 1266.6 L1180.1 1266.7 L1182.1 1266.9 L1184.1 1267.0 L1186.1 1267.1 L1188.1 1267.2 L1190.1 1267.3 L1192.1 1267.4 L1194.1 1267.5 L1196.1 1267.6 L1198.1 1267.7 L1200.1 1267.8 L1202.1 1267.9 L1204.1 1268.0 L1206.1 1268.1 L1208.1 1268.2 L1210.1 1268.2 L1212.1 1268.3 L1214.1 1268.4 L1216.1 1268.5 L1218.1 1268.5 L1220.1 1268.6 L1222.1 1268.7 L1224.1 1268.7 L1226.1 1268.8 L1228.1 1268.8 L1230.1 1268.9 L1232.2 1268.9 L1234.2 1269.0 L1236.2 1269.0 L1238.2 1269.1 L1240.2 1269.1 L1242.2 1269.1 L1244.2 1269.2 L1246.2 1269.2 L1248.2 1269.2 L1250.2 1269.3 L1252.2 1269.3 L1254.2 1269.3 L1256.2 1269.3 L1258.3 1269.3 L1260.3 1269.3 L1262.3 1269.3 L1264.3 1269.3 L1266.3 1269.3 L1268.3 1269.3 L1270.3 1269.3 L1272.3 1269.3 L1274.4 1269.3 L1276.4 1269.3 L1278.4 1269.2 L1280.4 1269.2 L1282.4 1269.2 L1284.4 1269.2 L1286.4 1269.1 L1288.4 1269.1 L1290.5 1269.1 L1292.5 1269.0 L1294.5 1269.0 L1296.5 1268.9 L1298.5 1268.9 L1300.5 1268.8 L1302.6 1268.8 L1304.6 1268.7 L1306.6 1268.6 L1308.6 1268.6 L1310.6 1268.5 L1312.7 1268.4 L1314.7 1268.4 L1316.7 1268.3 L1318.7 1268.2 L1320.7 1268.1 L1322.8 1268.0 L1324.8 1267.9 L1326.8 1267.8 L1328.8 1267.7 L1330.8 1267.6 L1332.9 1267.5 L1334.9 1267.4 L1336.9 1267.3 L1338.9 1267.2 L1341.0 1267.1 L1343.0 1266.9 L1345.0 1266.8 L1347.0 1266.7 L1349.1 1266.6 L1351.1 1266.4 L1353.1 1266.3 L1355.1 1266.1 L1357.2 1266.0 L1359.2 1265.8 L1361.2 1265.7 L1363.2 1265.5 L1365.3 1265.4 L1367.3 1265.2 L1369.3 1265.0 L1371.4 1264.9 L1373.4 1264.7 L1375.4 1264.5 L1377.4 1264.3 L1379.5 1264.1 L1381.5 1263.9 L1383.5 1263.7 L1385.5 1263.5 L1387.5 1263.3 L1389.5 1263.1 L1391.6 1262.8 L1393.6 1262.6 L1395.6 1262.3 L1397.6 1262.1 L1399.6 1261.8 L1401.6 1261.5 L1403.6 1261.2 L1405.6 1260.9 L1407.6 1260.6 L1409.5 1260.3 L1411.5 1260.0 L1413.5 1259.7 L1415.5 1259.3 L1417.5 1259.0 L1419.4 1258.6 L1421.4 1258.2 L1423.4 1257.8 L1425.3 1257.4 L1427.3 1257.0 L1429.2 1256.6 L1431.1 1256.1 L1433.1 1255.7 L1435.0 1255.2 L1436.9 1254.7 L1438.8 1254.3 L1440.8 1253.8 L1442.7 1253.2 L1444.6 1252.7 L1446.5 1252.2 L1448.3 1251.6 L1450.2 1251.0 L1452.1 1250.4 L1454.0 1249.8 L1455.8 1249.2 L1457.7 1248.5 L1459.5 1247.9 L1461.4 1247.2 L1463.2 1246.5 L1465.0 1245.8 L1466.8 1245.1 L1468.6 1244.3 L1470.4 1243.6 L1472.2 1242.8 L1474.0 1242.0 L1475.8 1241.2 L1477.6 1240.4 L1479.3 1239.5 L1481.1 1238.6 L1482.8 1237.7 L1484.5 1236.8 L1486.2 1235.9 L1487.9 1234.9 L1489.6 1233.9 L1491.3 1233.0 L1493.0 1231.9 L1494.7 1230.9 L1496.3 1229.8 L1498.0 1228.8 L1499.6 1227.7 L1501.2 1226.5 L1502.9 1225.4 L1504.5 1224.2 L1506.1 1223.1 L1507.6 1221.9 L1509.2 1220.7 L1510.8 1219.4 L1512.3 1218.2 L1513.8 1216.9 L1515.4 1215.6 L1516.9 1214.3 L1518.4 1213.0 L1519.9 1211.7 L1521.4 1210.3 L1522.8 1209.0 L1524.3 1207.6 L1525.7 1206.2 L1527.1 1204.8 L1528.6 1203.4 L1530.0 1201.9 L1531.4 1200.5 L1532.7 1199.0 L1534.1 1197.5 L1535.5 1196.0 L1536.8 1194.5 L1538.1 1193.0 L1539.4 1191.4 L1540.7 1189.9 L1542.0 1188.3 L1543.3 1186.7 L1544.6 1185.2 L1545.8 1183.6 L1547.0 1181.9 L1548.2 1180.3 L1549.4 1178.7 L1550.6 1177.1 L1551.8 1175.4 L1553.0 1173.7 L1554.1 1172.1 L1555.2 1170.4 L1556.4 1168.7 L1557.5 1167.0 L1558.6 1165.3 L1559.6 1163.5 L1560.7 1161.8 L1561.7 1160.1 L1562.7 1158.3 L1563.8 1156.6 L1564.8 1154.8 L1565.7 1153.1 L1566.7 1151.3 L1567.6 1149.5 L1568.6 1147.7 L1569.5 1145.9 L1570.4 1144.1 L1571.3 1142.3 L1572.1 1140.5 L1573.0 1138.7 L1573.8 1136.9 L1574.7 1135.0 L1575.5 1133.2 L1576.2 1131.4 L1577.0 1129.5 L1577.8 1127.7 L1578.5 1125.8 L1579.3 1124.0 L1580.0 1122.1 L1580.7 1120.3 L1581.4 1118.4 L1582.1 1116.5 L1582.7 1114.6 L1583.4 1112.7 L1584.0 1110.9 L1584.6 1109.0 L1585.2 1107.1 L1585.8 1105.2 L1586.4 1103.3 L1587.0 1101.4 L1587.6 1099.4 L1588.1 1097.5 L1588.7 1095.6 L1589.2 1093.7 L1589.7 1091.8 L1590.2 1089.8 L1590.7 1087.9 L1591.2 1086.0 L1591.7 1084.0 L1592.2 1082.1 L1592.6 1080.1 L1593.1 1078.2 L1593.5 1076.2 L1594.0 1074.3 L1594.4 1072.3 L1594.8 1070.4 L1595.2 1068.4 L1595.6 1066.4 L1596.0 1064.5 L1596.4 1062.5 L1596.8 1060.5 L1597.1 1058.5 L1597.5 1056.6 L1597.9 1054.6 L1598.2 1052.6 L1598.6 1050.6 L1598.9 1048.6 L1599.2 1046.7 L1599.5 1044.7 L1599.9 1042.7 L1600.2 1040.7 L1600.5 1038.7 L1600.8 1036.7 L1601.1 1034.7 L1601.4 1032.7 L1601.7 1030.7 L1602.0 1028.7 L1602.2 1026.7 L1602.5 1024.7 L1602.8 1022.7 L1603.1 1020.7 L1603.3 1018.7 L1603.6 1016.7 L1603.8 1014.7 L1604.1 1012.7 L1604.4 1010.7 L1604.6 1008.7 L1604.9 1006.7 L1605.1 1004.7 L1605.4 1002.7 L1605.6 1000.7 L1605.9 998.7 L1606.1 996.7 L1606.4 994.7 L1606.6 992.7 L1606.8 990.7 L1607.1 988.7 L1607.3 986.7 L1607.6 984.7 L1607.8 982.7 L1608.1 980.7 L1608.3 978.7 L1608.6 976.7 L1608.8 974.7 L1609.1 972.7 L1609.3 970.7 L1609.6 968.7 L1609.8 966.7 L1610.1 964.7 L1610.3 962.8 L1610.6 960.8 L1610.8 958.8 L1611.1 956.8 L1611.4 954.8 L1611.6 952.8 L1611.9 950.8 L1612.1 948.9 L1612.4 946.9 L1612.7 944.9 L1612.9 942.9 L1613.2 940.9 L1613.5 938.9 L1613.7 937.0 L1614.0 935.0 L1614.3 933.0 L1614.6 931.0 L1614.8 929.1 L1615.1 927.1 L1615.4 925.1 L1615.7 923.1 L1616.0 921.1 L1616.2 919.2 L1616.5 917.2 L1616.8 915.2 L1617.1 913.3 L1617.4 911.3 L1617.7 909.3 L1618.0 907.3 L1618.2 905.4 L1618.5 903.4 L1618.8 901.4 L1619.1 899.5 L1619.4 897.5 L1619.7 895.5 L1620.0 893.5 L1620.3 891.6 L1620.6 889.6 L1620.9 887.6 L1621.2 885.7 L1621.5 883.7 L1621.8 881.7 L1622.1 879.8 L1622.5 877.8 L1622.8 875.8 L1623.1 873.9 L1623.4 871.9 L1623.7 869.9 L1624.0 867.9 L1624.3 866.0 L1624.7 864.0 L1625.0 862.0 L1625.3 860.1 L1625.6 858.1 L1626.0 856.1 L1626.3 854.2 L1626.6 852.2 L1626.9 850.2 L1627.3 848.3 L1627.6 846.3 L1627.9 844.3 L1628.3 842.4 L1628.6 840.4 L1628.9 838.4 L1629.3 836.4 L1629.6 834.5 L1630.0 832.5 L1630.3 830.5 L1630.6 828.6 L1631.0 826.6 L1631.3 824.6 L1631.7 822.6 L1632.0 820.7 L1632.4 818.7 L1632.8 816.7 L1633.1 814.7 L1633.5 812.8 L1633.8 810.8 L1634.2 808.8 L1634.5 806.8 L1634.9 804.9 L1635.3 802.9 L1635.6 800.9 L1636.0 798.9 L1636.4 796.9 L1636.8 795.0 L1637.1 793.0 L1637.5 791.0 L1637.9 793.0 L1638.3 795.0 L1638.6 797.0 L1639.0 798.9 L1639.3 800.9 L1639.7 802.9 L1640.0 804.9 L1640.3 806.9 L1640.7 808.9 L1641.0 810.9 L1641.3 812.9 L1641.6 814.9 L1641.9 816.9 L1642.2 818.9 L1642.4 820.8 L1642.7 822.8 L1643.0 824.8 L1643.2 826.8 L1643.5 828.8 L1643.8 830.8 L1644.0 832.8 L1644.2 834.8 L1644.5 836.8 L1644.7 838.8 L1644.9 840.8 L1645.1 842.8 L1645.4 844.8 L1645.6 846.8 L1645.8 848.8 L1646.0 850.8 L1646.2 852.8 L1646.3 854.8 L1646.5 856.8 L1646.7 858.8 L1646.9 860.9 L1647.0 862.9 L1647.2 864.9 L1647.4 866.9 L1647.5 868.9 L1647.7 870.9 L1647.8 872.9 L1648.0 874.9 L1648.1 876.9 L1648.3 878.9 L1648.4 880.9 L1648.5 882.9 L1648.7 884.9 L1648.8 887.0 L1648.9 889.0 L1649.0 891.0 L1649.1 893.0 L1649.2 895.0 L1649.4 897.0 L1649.5 899.0 L1649.6 901.0 L1649.7 903.0 L1649.8 905.1 L1649.9 907.1 L1650.0 909.1 L1650.1 911.1 L1650.2 913.1 L1650.3 915.1 L1650.3 917.1 L1650.4 919.2 L1650.5 921.2 L1650.6 923.2 L1650.7 925.2 L1650.8 927.2 L1650.8 929.2 L1650.9 931.2 L1651.0 933.3 L1651.1 935.3 L1651.2 937.3 L1651.2 939.3 L1651.3 941.3 L1651.4 943.3 L1651.5 945.4 L1651.5 947.4 L1651.6 949.4 L1651.7 951.4 L1651.8 953.4 L1651.9 955.4 L1651.9 957.4 L1652.0 959.5 L1652.1 961.5 L1652.2 963.5 L1652.2 965.5 L1652.3 967.5 L1652.4 969.5 L1652.5 971.6 L1652.6 973.6 L1652.6 975.6 L1652.7 977.6 L1652.8 979.6 L1652.9 981.6 L1653.0 983.6 L1653.1 985.7 L1653.2 987.7 L1653.3 989.7 L1653.4 991.7 L1653.5 993.7 L1653.6 995.7 L1653.7 997.7 L1653.8 999.8 L1653.9 1001.8 L1654.0 1003.8 L1654.1 1005.8 L1654.2 1007.8 L1654.3 1009.8 L1654.5 1011.8 L1654.6 1013.8 L1654.7 1015.8 L1654.8 1017.9 L1655.0 1019.9 L1655.1 1021.9 L1655.3 1023.9 L1655.4 1025.9 L1655.5 1027.9 L1655.7 1029.9 L1655.9 1031.9 L1656.0 1033.9 L1656.2 1035.9 L1656.3 1037.9 L1656.5 1040.0 L1656.7 1042.0 L1656.9 1044.0 L1657.1 1046.0 L1657.3 1048.0 L1657.4 1050.0 L1657.6 1052.0 L1657.9 1054.0 L1658.1 1056.0 L1658.3 1058.0 L1658.5 1060.0" stroke="#00d000" stroke-dasharray="32 29.5" stroke-dashoffset="11"/>
<path d="M206.5 346.0 L208.0 344.4 L209.3 342.8 L210.4 341.2 L211.4 339.5 L212.3 337.8 L213.1 336.1 L213.8 334.3 L214.4 332.5 L214.9 330.6 L215.4 328.7 L215.8 326.8 L216.2 324.8 L216.5 322.8 L216.9 320.8 L217.2 318.7 L217.6 316.6 L217.9 314.4 L218.3 312.2 L218.8 310.0 L219.3 307.7 L219.9 305.4 L220.6 303.2 L221.3 301.0 L222.2 299.0 L223.2 297.2 L224.3 295.6 L225.5 294.3 L226.9 293.3 L228.3 292.7 L229.9 292.3 L231.6 292.2 L233.3 292.3 L235.0 292.7 L236.7 293.2 L238.4 293.8 L240.0 294.6 L241.6 295.5 L243.1 296.6 L244.5 297.7 L245.8 298.9 L247.1 300.2 L248.4 301.6 L249.5 303.0 L250.7 304.6 L251.8 306.2 L252.8 307.9 L253.8 309.6 L254.7 311.4 L255.6 313.2 L256.5 315.1 L257.3 317.0 L258.1 319.0 L258.9 320.9 L259.7 322.9 L260.4 324.9 L261.1 327.0 L261.8 329.0 L262.4 331.0 L263.1 333.0 L263.7 335.1 L264.3 337.1 L264.9 339.1 L265.5 341.1 L266.1 343.1 L266.7 345.1 L267.2 347.1 L267.8 349.1 L268.3 351.1 L268.8 353.1 L269.4 355.1 L269.9 357.0 L270.4 359.0 L270.8 361.0 L271.3 363.0 L271.8 364.9 L272.2 366.9 L272.7 368.9 L273.1 370.8 L273.6 372.8 L274.0 374.7 L274.4 376.7 L274.9 378.6 L275.3 380.6 L275.7 382.5 L276.1 384.5 L276.5 386.4 L276.9 388.4 L277.3 390.3 L277.7 392.3 L278.1 394.2 L278.5 396.2 L278.8 398.1 L279.2 400.0 L279.6 402.0 L280.0 403.9 L280.4 405.8 L280.8 407.8 L281.1 409.7 L281.5 411.6 L281.9 413.6 L282.3 415.5 L282.7 417.4 L283.1 419.4 L283.4 421.3 L283.8 423.3 L284.2 425.2 L284.6 427.1 L285.0 429.1 L285.4 431.0 L285.8 432.9 L286.2 434.9 L286.7 436.8 L287.1 438.7 L287.5 440.7 L287.9 442.6 L288.3 444.6 L288.8 446.5 L289.2 448.4 L289.6 450.4 L290.0 452.3 L290.5 454.2 L290.9 456.2 L291.4 458.1 L291.8 460.1 L292.2 462.0 L292.7 463.9 L293.1 465.9 L293.6 467.8 L294.1 469.8 L294.5 471.7 L295.0 473.6 L295.4 475.6 L295.9 477.5 L296.4 479.5 L296.8 481.4 L297.3 483.3 L297.8 485.3 L298.2 487.2 L298.7 489.2 L299.2 491.1 L299.7 493.0 L300.2 495.0 L300.7 496.9 L301.1 498.9 L301.6 500.8 L302.1 502.7 L302.6 504.7 L303.1 506.6 L303.6 508.6 L304.1 510.5 L304.6 512.4 L305.1 514.4 L305.6 516.3 L306.1 518.3 L306.6 520.2 L307.1 522.1 L307.6 524.1 L308.2 526.0 L308.7 528.0 L309.2 529.9 L309.7 531.8 L310.2 533.8 L310.8 535.7 L311.3 537.6 L311.8 539.6 L312.3 541.5 L312.9 543.5 L313.4 545.4 L313.9 547.3 L314.4 549.3 L315.0 551.2 L315.5 553.1 L316.1 555.1 L316.6 557.0 L317.1 559.0 L317.7 560.9 L318.2 562.8 L318.8 564.8 L319.3 566.7 L319.8 568.6 L320.4 570.6 L320.9 572.5 L321.5 574.4 L322.0 576.4 L322.6 578.3 L323.1 580.2 L323.7 582.2 L324.3 584.1 L324.8 586.0 L325.4 587.9 L325.9 589.9 L326.5 591.8 L327.0 593.7 L327.6 595.7 L328.2 597.6 L328.7 599.5 L329.3 601.4 L329.9 603.4 L330.4 605.3 L331.0 607.2 L331.6 609.2 L332.1 611.1 L332.7 613.0 L333.3 614.9 L333.8 616.8 L334.4 618.8 L335.0 620.7 L335.6 622.6 L336.1 624.5 L336.7 626.5 L337.3 628.4 L337.9 630.3 L338.4 632.2 L339.0 634.1 L339.6 636.1 L340.2 638.0 L340.8 639.9 L341.3 641.8 L341.9 643.7 L342.5 645.6 L343.1 647.5 L343.7 649.5 L344.3 651.4 L344.9 653.3 L345.4 655.2 L346.0 657.1 L346.6 659.0 L347.2 660.9 L347.8 662.8 L348.4 664.7 L349.0 666.6 L349.6 668.5 L350.2 670.5 L350.8 672.4 L351.5 674.3 L352.1 676.2 L352.7 678.1 L353.3 680.0 L353.9 681.9 L354.5 683.8 L355.2 685.6 L355.8 687.5 L356.4 689.4 L357.1 691.3 L357.7 693.2 L358.3 695.1 L359.0 697.0 L359.6 698.9 L360.3 700.8 L360.9 702.7 L361.6 704.5 L362.2 706.4 L362.9 708.3 L363.5 710.2 L364.2 712.1 L364.9 714.0 L365.6 715.8 L366.2 717.7 L366.9 719.6 L367.6 721.5 L368.3 723.3 L369.0 725.2 L369.7 727.1 L370.4 728.9 L371.1 730.8 L371.8 732.7 L372.5 734.5 L373.2 736.4 L373.9 738.3 L374.7 740.1 L375.4 742.0 L376.1 743.8 L376.9 745.7 L377.6 747.5 L378.3 749.4 L379.1 751.2 L379.8 753.1 L380.6 754.9 L381.4 756.8 L382.1 758.6 L382.9 760.5 L383.7 762.3 L384.5 764.2 L385.3 766.0 L386.1 767.8 L386.9 769.7 L387.7 771.5 L388.5 773.3 L389.3 775.2 L390.1 777.0 L390.9 778.8 L391.8 780.6 L392.6 782.5 L393.5 784.3 L394.3 786.1 L395.2 787.9 L396.0 789.7 L396.9 791.5 L397.7 793.3 L398.6 795.1 L399.5 797.0 L400.4 798.8 L401.3 800.6 L402.2 802.4 L403.1 804.2 L404.0 805.9 L404.9 807.7 L405.8 809.5 L406.7 811.3 L407.7 813.1 L408.6 814.9 L409.5 816.7 L410.5 818.4 L411.4 820.2 L412.4 822.0 L413.3 823.8 L414.3 825.5 L415.3 827.3 L416.2 829.1 L417.2 830.8 L418.2 832.6 L419.2 834.3 L420.2 836.1 L421.2 837.8 L422.2 839.6 L423.2 841.3 L424.2 843.1 L425.2 844.8 L426.3 846.5 L427.3 848.3 L428.3 850.0 L429.4 851.7 L430.4 853.4 L431.5 855.2 L432.5 856.9 L433.6 858.6 L434.6 860.3 L435.7 862.0 L436.8 863.7 L437.9 865.4 L439.0 867.1 L440.1 868.8 L441.2 870.5 L442.3 872.2 L443.4 873.9 L444.5 875.5 L445.6 877.2 L446.7 878.9 L447.8 880.6 L449.0 882.2 L450.1 883.9 L451.3 885.5 L452.4 887.2 L453.6 888.8 L454.7 890.5 L455.9 892.1 L457.0 893.8 L458.2 895.4 L459.4 897.0 L460.6 898.7 L461.8 900.3 L463.0 901.9 L464.1 903.5 L465.4 905.2 L466.6 906.8 L467.8 908.4 L469.0 910.0 L470.2 911.6 L471.4 913.2 L472.7 914.7 L473.9 916.3 L475.1 917.9 L476.4 919.5 L477.6 921.1 L478.9 922.6 L480.2 924.2 L481.4 925.7 L482.7 927.3 L484.0 928.9 L485.3 930.4 L486.5 931.9 L487.8 933.5 L489.1 935.0 L490.4 936.5 L491.7 938.1 L493.0 939.6 L494.3 941.1 L495.7 942.6 L497.0 944.1 L498.3 945.6 L499.7 947.1 L501.0 948.6 L502.3 950.1 L503.7 951.6 L505.0 953.0 L506.4 954.5 L507.8 956.0 L509.1 957.4 L510.5 958.9 L511.9 960.3 L513.3 961.8 L514.6 963.2 L516.0 964.7 L517.4 966.1 L518.8 967.5 L520.2 968.9 L521.6 970.3 L523.1 971.8 L524.5 973.2 L525.9 974.6 L527.3 976.0 L528.8 977.3 L530.2 978.7 L531.6 980.1 L533.1 981.5 L534.5 982.8 L536.0 984.2 L537.5 985.6 L538.9 986.9 L540.4 988.2 L541.9 989.6 L543.3 990.9 L544.8 992.2 L546.3 993.6 L547.8 994.9 L549.3 996.2 L550.8 997.5 L552.3 998.8 L553.8 1000.1 L555.3 1001.4 L556.9 1002.7 L558.4 1003.9 L559.9 1005.2 L561.5 1006.5 L563.0 1007.7 L564.5 1009.0 L566.1 1010.2 L567.6 1011.4 L569.2 1012.7 L570.8 1013.9 L572.3 1015.1 L573.9 1016.3 L575.5 1017.5 L577.1 1018.7 L578.6 1019.9 L580.2 1021.1 L581.8 1022.3 L583.4 1023.5 L585.0 1024.7 L586.6 1025.8 L588.2 1027.0 L589.8 1028.1 L591.5 1029.3 L593.1 1030.4 L594.7 1031.5 L596.3 1032.7 L598.0 1033.8 L599.6 1034.9 L601.3 1036.0 L602.9 1037.1 L604.6 1038.2 L606.2 1039.3 L607.9 1040.4 L609.5 1041.5 L611.2 1042.6 L612.9 1043.6 L614.6 1044.7 L616.2 1045.8 L617.9 1046.8 L619.6 1047.9 L621.3 1048.9 L623.0 1050.0 L624.7 1051.0 L626.4 1052.0 L628.1 1053.0 L629.8 1054.0 L631.5 1055.1 L633.2 1056.1 L634.9 1057.1 L636.7 1058.1 L638.4 1059.0 L640.1 1060.0 L641.9 1061.0 L643.6 1062.0 L645.3 1063.0 L647.1 1063.9 L648.8 1064.9 L650.6 1065.8 L652.3 1066.8 L654.1 1067.7 L655.8 1068.7 L657.6 1069.6 L659.4 1070.5 L661.1 1071.4 L662.9 1072.4 L664.7 1073.3 L666.5 1074.2 L668.2 1075.1 L670.0 1076.0 L671.8 1076.9 L673.6 1077.8 L675.4 1078.7 L677.2 1079.5 L679.0 1080.4 L680.8 1081.3 L682.6 1082.2 L684.4 1083.0 L686.2 1083.9 L688.0 1084.7 L689.8 1085.6 L691.6 1086.4 L693.4 1087.3 L695.3 1088.1 L697.1 1088.9 L698.9 1089.8 L700.7 1090.6 L702.6 1091.4 L704.4 1092.2 L706.3 1093.0 L708.1 1093.8 L709.9 1094.6 L711.8 1095.4 L713.6 1096.2 L715.5 1097.0 L717.3 1097.8 L719.2 1098.6 L721.0 1099.3 L722.9 1100.1 L724.7 1100.9 L726.6 1101.6 L728.5 1102.4 L730.3 1103.2 L732.2 1103.9 L734.1 1104.7 L735.9 1105.4 L737.8 1106.1 L739.7 1106.9 L741.6 1107.6 L743.4 1108.3 L745.3 1109.1 L747.2 1109.8 L749.1 1110.5 L751.0 1111.2 L752.9 1111.9 L754.7 1112.6 L756.6 1113.3 L758.5 1114.0 L760.4 1114.7 L762.3 1115.4 L764.2 1116.1 L766.1 1116.8 L768.0 1117.5 L769.9 1118.2 L771.8 1118.9 L773.7 1119.5 L775.6 1120.2 L777.5 1120.9 L779.4 1121.5 L781.4 1122.2 L783.3 1122.8 L785.2 1123.5 L787.1 1124.1 L789.0 1124.8 L790.9 1125.4 L792.8 1126.1 L794.8 1126.7 L796.7 1127.3 L798.6 1128.0 L800.5 1128.6 L802.4 1129.2 L804.4 1129.9 L806.3 1130.5 L808.2 1131.1 L810.1 1131.7 L812.1 1132.3 L814.0 1132.9 L815.9 1133.5 L817.9 1134.1 L819.8 1134.7 L821.7 1135.3 L823.6 1135.9 L825.6 1136.5 L827.5 1137.1 L829.4 1137.7 L831.4 1138.3 L833.3 1138.9 L835.3 1139.4 L837.2 1140.0 L839.1 1140.6 L841.1 1141.2 L843.0 1141.7 L844.9 1142.3 L846.9 1142.9 L848.8 1143.4 L850.8 1144.0 L852.7 1144.5 L854.6 1145.1 L856.6 1145.6 L858.5 1146.2 L860.4 1146.7 L862.4 1147.3 L864.3 1147.8 L866.3 1148.4 L868.2 1148.9 L870.2 1149.4 L872.1 1150.0 L874.0 1150.5 L876.0 1151.0 L877.9 1151.6 L879.9 1152.1 L881.8 1152.6 L883.8 1153.1 L885.7 1153.7 L887.6 1154.2 L889.6 1154.7 L891.5 1155.2 L893.5 1155.7 L895.4 1156.2 L897.4 1156.7 L899.3 1157.2 L901.3 1157.7 L903.2 1158.2 L905.2 1158.7 L907.1 1159.2 L909.1 1159.7 L911.0 1160.2 L913.0 1160.7 L914.9 1161.1 L916.9 1161.6 L918.8 1162.1 L920.7 1162.6 L922.7 1163.1 L924.7 1163.5 L926.6 1164.0 L928.6 1164.5 L930.5 1164.9 L932.5 1165.4 L934.4 1165.8 L936.4 1166.3 L938.3 1166.8 L940.3 1167.2 L942.2 1167.7 L944.2 1168.1 L946.1 1168.6 L948.1 1169.0 L950.0 1169.4 L952.0 1169.9 L953.9 1170.3 L955.9 1170.7 L957.9 1171.2 L959.8 1171.6 L961.8 1172.0 L963.7 1172.5 L965.7 1172.9 L967.6 1173.3 L969.6 1173.7 L971.6 1174.1 L973.5 1174.5 L975.5 1175.0 L977.4 1175.4 L979.4 1175.8 L981.3 1176.2 L983.3 1176.6 L985.3 1177.0 L987.2 1177.4 L989.2 1177.8 L991.1 1178.2 L993.1 1178.5 L995.1 1178.9 L997.0 1179.3 L999.0 1179.7 L1001.0 1180.1 L1002.9 1180.5 L1004.9 1180.8 L1006.8 1181.2 L1008.8 1181.6 L1010.8 1181.9 L1012.7 1182.3 L1014.7 1182.7 L1016.7 1183.0 L1018.6 1183.4 L1020.6 1183.7 L1022.6 1184.1 L1024.5 1184.4 L1026.5 1184.8 L1028.5 1185.1 L1030.4 1185.5 L1032.4 1185.8 L1034.4 1186.2 L1036.3 1186.5 L1038.3 1186.8 L1040.3 1187.2 L1042.2 1187.5 L1044.2 1187.8 L1046.2 1188.2 L1048.1 1188.5 L1050.1 1188.8 L1052.1 1189.1 L1054.1 1189.4 L1056.0 1189.7 L1058.0 1190.1 L1060.0 1190.4 L1061.9 1190.7 L1063.9 1191.0 L1065.9 1191.3 L1067.9 1191.6 L1069.8 1191.9 L1071.8 1192.2 L1073.8 1192.5 L1075.8 1192.7 L1077.7 1193.0 L1079.7 1193.3 L1081.7 1193.6 L1083.7 1193.9 L1085.6 1194.2 L1087.6 1194.4 L1089.6 1194.7 L1091.6 1195.0 L1093.5 1195.2 L1095.5 1195.5 L1097.5 1195.8 L1099.5 1196.0 L1101.4 1196.3 L1103.4 1196.5 L1105.4 1196.8 L1107.4 1197.1 L1109.4 1197.3 L1111.3 1197.5 L1113.3 1197.8 L1115.3 1198.0 L1117.3 1198.3 L1119.3 1198.5 L1121.2 1198.7 L1123.2 1199.0 L1125.2 1199.2 L1127.2 1199.4 L1129.2 1199.7 L1131.1 1199.9 L1133.1 1200.1 L1135.1 1200.3 L1137.1 1200.5 L1139.1 1200.7 L1141.1 1201.0 L1143.0 1201.2 L1145.0 1201.4 L1147.0 1201.6 L1149.0 1201.8 L1151.0 1202.0 L1153.0 1202.2 L1155.0 1202.4 L1156.9 1202.6 L1158.9 1202.7 L1160.9 1202.9 L1162.9 1203.1 L1164.9 1203.3 L1166.9 1203.5 L1168.9 1203.6 L1170.9 1203.8 L1172.8 1204.0 L1174.8 1204.2 L1176.8 1204.3 L1178.8 1204.5 L1180.8 1204.7 L1182.8 1204.8 L1184.8 1205.0 L1186.8 1205.1 L1188.8 1205.3 L1190.8 1205.4 L1192.7 1205.6 L1194.7 1205.7 L1196.7 1205.9 L1198.7 1206.0 L1200.7 1206.1 L1202.7 1206.3 L1204.7 1206.4 L1206.7 1206.5 L1208.7 1206.7 L1210.7 1206.8 L1212.7 1206.9 L1214.7 1207.0 L1216.7 1207.2 L1218.7 1207.3 L1220.7 1207.4 L1222.7 1207.5 L1224.7 1207.6 L1226.6 1207.7 L1228.6 1207.8 L1230.6 1207.9 L1232.6 1208.0 L1234.6 1208.1 L1236.6 1208.2 L1238.6 1208.3 L1240.6 1208.4 L1242.6 1208.5 L1244.6 1208.6 L1246.6 1208.7 L1248.6 1208.7 L1250.6 1208.8 L1252.6 1208.9 L1254.6 1209.0 L1256.6 1209.0 L1258.6 1209.1 L1260.6 1209.2 L1262.6 1209.2 L1264.6 1209.3 L1266.6 1209.3 L1268.6 1209.4 L1270.6 1209.4 L1272.7 1209.5 L1274.7 1209.5 L1276.7 1209.6 L1278.7 1209.6 L1280.7 1209.7 L1282.7 1209.7 L1284.7 1209.7 L1286.7 1209.8 L1288.7 1209.8 L1290.7 1209.8 L1292.7 1209.9 L1294.7 1209.9 L1296.7 1209.9 L1298.7 1209.9 L1300.7 1209.9 L1302.7 1210.0 L1304.7 1210.0 L1306.8 1210.0 L1308.8 1210.0 L1310.8 1210.0 L1312.8 1210.0 L1314.8 1210.0 L1316.8 1210.0 L1318.8 1210.0 L1320.8 1210.0 L1322.8 1210.0 L1324.8 1209.9 L1326.9 1209.9 L1328.9 1209.9 L1330.9 1209.9 L1332.9 1209.9 L1334.9 1209.8 L1336.9 1209.8 L1338.9 1209.8 L1340.9 1209.8 L1343.0 1209.7 L1345.0 1209.7 L1347.0 1209.6 L1349.0 1209.6 L1351.0 1209.5 L1353.0 1209.5 L1355.0 1209.4 L1357.1 1209.4 L1359.1 1209.3 L1361.1 1209.3 L1363.1 1209.2 L1365.1 1209.1 L1367.1 1209.0 L1369.1 1208.9 L1371.1 1208.8 L1373.1 1208.7 L1375.2 1208.6 L1377.2 1208.5 L1379.2 1208.4 L1381.2 1208.3 L1383.2 1208.2 L1385.2 1208.0 L1387.2 1207.9 L1389.2 1207.7 L1391.2 1207.6 L1393.2 1207.4 L1395.2 1207.2 L1397.2 1207.0 L1399.2 1206.9 L1401.2 1206.7 L1403.2 1206.4 L1405.1 1206.2 L1407.1 1206.0 L1409.1 1205.8 L1411.1 1205.5 L1413.1 1205.3 L1415.1 1205.0 L1417.0 1204.7 L1419.0 1204.4 L1421.0 1204.1 L1423.0 1203.8 L1424.9 1203.5 L1426.9 1203.1 L1428.8 1202.8 L1430.8 1202.4 L1432.8 1202.1 L1434.7 1201.7 L1436.7 1201.3 L1438.6 1200.9 L1440.6 1200.5 L1442.5 1200.0 L1444.4 1199.6 L1446.4 1199.1 L1448.3 1198.6 L1450.2 1198.1 L1452.1 1197.6 L1454.1 1197.1 L1456.0 1196.6 L1457.9 1196.0 L1459.8 1195.5 L1461.7 1194.9 L1463.6 1194.3 L1465.5 1193.7 L1467.4 1193.0 L1469.3 1192.4 L1471.2 1191.7 L1473.1 1191.1 L1474.9 1190.4 L1476.8 1189.6 L1478.7 1188.9 L1480.5 1188.2 L1482.4 1187.4 L1484.2 1186.6 L1486.1 1185.8 L1487.9 1185.0 L1489.8 1184.1 L1491.6 1183.3 L1493.4 1182.4 L1495.2 1181.5 L1497.0 1180.6 L1498.8 1179.7 L1500.6 1178.7 L1502.4 1177.7 L1504.1 1176.7 L1505.9 1175.7 L1507.6 1174.7 L1509.3 1173.6 L1511.0 1172.6 L1512.7 1171.5 L1514.4 1170.4 L1516.0 1169.2 L1517.7 1168.1 L1519.3 1166.9 L1520.9 1165.7 L1522.5 1164.5 L1524.1 1163.3 L1525.7 1162.0 L1527.2 1160.7 L1528.7 1159.4 L1530.2 1158.1 L1531.7 1156.8 L1533.2 1155.4 L1534.6 1154.0 L1536.0 1152.6 L1537.4 1151.2 L1538.8 1149.7 L1540.1 1148.3 L1541.5 1146.8 L1542.8 1145.3 L1544.1 1143.8 L1545.3 1142.2 L1546.6 1140.7 L1547.8 1139.1 L1549.0 1137.5 L1550.2 1135.9 L1551.4 1134.2 L1552.5 1132.6 L1553.6 1131.0 L1554.7 1129.3 L1555.8 1127.6 L1556.9 1125.9 L1557.9 1124.2 L1558.9 1122.5 L1559.9 1120.7 L1560.9 1119.0 L1561.9 1117.2 L1562.8 1115.5 L1563.7 1113.7 L1564.6 1111.9 L1565.5 1110.1 L1566.4 1108.3 L1567.2 1106.5 L1568.0 1104.6 L1568.8 1102.8 L1569.6 1101.0 L1570.3 1099.1 L1571.1 1097.3 L1571.8 1095.4 L1572.5 1093.5 L1573.2 1091.6 L1573.9 1089.8 L1574.5 1087.9 L1575.2 1086.0 L1575.8 1084.1 L1576.4 1082.2 L1577.0 1080.3 L1577.6 1078.4 L1578.2 1076.4 L1578.8 1074.5 L1579.3 1072.6 L1579.9 1070.7 L1580.4 1068.8 L1580.9 1066.8 L1581.5 1064.9 L1582.0 1063.0 L1582.5 1061.0 L1583.0 1059.1 L1583.5 1057.1 L1584.0 1055.2 L1584.5 1053.3 L1585.0 1051.3 L1585.5 1049.4 L1585.9 1047.4 L1586.4 1045.5 L1586.9 1043.5 L1587.3 1041.6 L1587.8 1039.7 L1588.2 1037.7 L1588.7 1035.8 L1589.1 1033.8 L1589.6 1031.8 L1590.0 1029.9 L1590.4 1027.9 L1590.8 1026.0 L1591.3 1024.0 L1591.7 1022.1 L1592.1 1020.1 L1592.5 1018.2 L1592.9 1016.2 L1593.3 1014.2 L1593.7 1012.3 L1594.1 1010.3 L1594.4 1008.3 L1594.8 1006.4 L1595.2 1004.4 L1595.6 1002.5 L1595.9 1000.5 L1596.3 998.5 L1596.7 996.6 L1597.0 994.6 L1597.4 992.6 L1597.7 990.6 L1598.0 988.7 L1598.4 986.7 L1598.7 984.7 L1599.1 982.8 L1599.4 980.8 L1599.7 978.8 L1600.0 976.8 L1600.3 974.9 L1600.7 972.9 L1601.0 970.9 L1601.3 968.9 L1601.6 966.9 L1601.9 965.0 L1602.2 963.0 L1602.5 961.0 L1602.8 959.0 L1603.0 957.0 L1603.3 955.1 L1603.6 953.1 L1603.9 951.1 L1604.2 949.1 L1604.4 947.1 L1604.7 945.1 L1605.0 943.2 L1605.2 941.2 L1605.5 939.2 L1605.8 937.2 L1606.0 935.2 L1606.3 933.2 L1606.5 931.2 L1606.8 929.2 L1607.0 927.3 L1607.3 925.3 L1607.5 923.3 L1607.8 921.3 L1608.0 919.3 L1608.2 917.3 L1608.5 915.3 L1608.7 913.3 L1608.9 911.3 L1609.2 909.3 L1609.4 907.3 L1609.6 905.4 L1609.8 903.4 L1610.1 901.4 L1610.3 899.4 L1610.5 897.4 L1610.7 895.4 L1610.9 893.4 L1611.1 891.4 L1611.4 889.4 L1611.6 887.4 L1611.8 885.4 L1612.0 883.4 L1612.2 881.4 L1612.4 879.4 L1612.6 877.4 L1612.8 875.5 L1613.0 873.5 L1613.2 871.5 L1613.4 869.5 L1613.6 867.5 L1613.8 865.5 L1614.0 863.5 L1614.2 861.5 L1614.4 859.5 L1614.6 857.5 L1614.8 855.5 L1615.0 853.5 L1615.2 851.5 L1615.4 849.5 L1615.6 847.5 L1615.8 845.5 L1615.9 843.5 L1616.1 841.5 L1616.3 839.6 L1616.5 837.6 L1616.7 835.6 L1616.9 833.6 L1617.1 831.6 L1617.3 829.6 L1617.5 827.6 L1617.7 825.6 L1617.9 823.6 L1618.1 821.6 L1618.3 819.6 L1618.5 817.6 L1618.7 815.6 L1618.9 813.6 L1619.1 811.7 L1619.3 809.7 L1619.5 807.7 L1619.7 805.7 L1619.9 803.7 L1620.1 801.7 L1620.4 799.7 L1620.6 797.7 L1620.8 795.7 L1621.0 793.7 L1621.2 791.8 L1621.4 789.8 L1621.7 787.8 L1621.9 785.8 L1622.1 783.8 L1622.3 781.8 L1622.6 779.8 L1622.8 777.8 L1623.1 775.9 L1623.3 773.9 L1623.5 771.9 L1623.8 769.9 L1624.0 767.9 L1624.3 765.9 L1624.5 763.9 L1624.8 762.0 L1625.0 760.0 L1625.3 758.0 L1625.6 756.0 L1625.8 754.0 L1626.1 752.1 L1626.4 750.1 L1626.7 748.1 L1626.9 746.1 L1627.2 744.1 L1627.5 742.2 L1627.8 740.2 L1628.1 738.2 L1628.4 736.2 L1628.7 734.3 L1629.0 732.3 L1629.3 730.3 L1629.7 728.3 L1630.0 726.4 L1630.3 724.4 L1630.6 722.4 L1631.0 720.4 L1631.3 718.5 L1631.7 716.5 L1632.0 714.5 L1632.4 712.6 L1632.7 710.6 L1633.1 708.6 L1633.4 706.7 L1633.8 704.7 L1634.2 702.7 L1634.6 700.8 L1635.0 698.8 L1635.4 696.8 L1635.8 694.9 L1636.2 692.9 L1636.6 691.0 L1637.0 689.0 L1637.0 689.0 L1637.4 691.0 L1637.8 692.9 L1638.3 694.9 L1638.7 696.9 L1639.0 698.8 L1639.4 700.8 L1639.8 702.8 L1640.2 704.7 L1640.5 706.7 L1640.9 708.7 L1641.2 710.7 L1641.6 712.6 L1641.9 714.6 L1642.2 716.6 L1642.6 718.6 L1642.9 720.6 L1643.2 722.5 L1643.5 724.5 L1643.8 726.5 L1644.0 728.5 L1644.3 730.5 L1644.6 732.5 L1644.8 734.5 L1645.1 736.4 L1645.4 738.4 L1645.6 740.4 L1645.8 742.4 L1646.1 744.4 L1646.3 746.4 L1646.5 748.4 L1646.7 750.4 L1647.0 752.4 L1647.2 754.4 L1647.4 756.4 L1647.6 758.4 L1647.7 760.4 L1647.9 762.4 L1648.1 764.4 L1648.3 766.4 L1648.4 768.4 L1648.6 770.4 L1648.8 772.4 L1648.9 774.4 L1649.1 776.4 L1649.2 778.5 L1649.4 780.5 L1649.5 782.5 L1649.6 784.5 L1649.8 786.5 L1649.9 788.5 L1650.0 790.5 L1650.1 792.5 L1650.2 794.5 L1650.4 796.6 L1650.5 798.6 L1650.6 800.6 L1650.7 802.6 L1650.8 804.6 L1650.8 806.6 L1650.9 808.7 L1651.0 810.7 L1651.1 812.7 L1651.2 814.7 L1651.3 816.7 L1651.3 818.8 L1651.4 820.8 L1651.5 822.8 L1651.6 824.8 L1651.6 826.8 L1651.7 828.9 L1651.7 830.9 L1651.8 832.9 L1651.9 834.9 L1651.9 836.9 L1652.0 839.0 L1652.0 841.0 L1652.1 843.0 L1652.1 845.0 L1652.2 847.1 L1652.2 849.1 L1652.3 851.1 L1652.3 853.1 L1652.3 855.2 L1652.4 857.2 L1652.4 859.2 L1652.5 861.2 L1652.5 863.3 L1652.5 865.3 L1652.6 867.3 L1652.6 869.3 L1652.7 871.4 L1652.7 873.4 L1652.7 875.4 L1652.8 877.5 L1652.8 879.5 L1652.8 881.5 L1652.9 883.5 L1652.9 885.6 L1652.9 887.6 L1653.0 889.6 L1653.0 891.6 L1653.1 893.7 L1653.1 895.7 L1653.1 897.7 L1653.2 899.7 L1653.2 901.8 L1653.3 903.8 L1653.3 905.8 L1653.3 907.8 L1653.4 909.9 L1653.4 911.9 L1653.5 913.9 L1653.5 915.9 L1653.6 918.0 L1653.6 920.0 L1653.7 922.0 L1653.8 924.0 L1653.8 926.0 L1653.9 928.1 L1653.9 930.1 L1654.0 932.1 L1654.1 934.1 L1654.1 936.2 L1654.2 938.2 L1654.3 940.2 L1654.4 942.2 L1654.4 944.2 L1654.5 946.2 L1654.6 948.3 L1654.7 950.3 L1654.8 952.3 L1654.9 954.3 L1655.0 956.3 L1655.1 958.3 L1655.2 960.4 L1655.3 962.4 L1655.4 964.4 L1655.5 966.4 L1655.7 968.4 L1655.8 970.4 L1655.9 972.4 L1656.1 974.4 L1656.2 976.5 L1656.3 978.5 L1656.5 980.5 L1656.6 982.5 L1656.8 984.5 L1656.9 986.5 L1657.1 988.5 L1657.3 990.5 L1657.4 992.5 L1657.6 994.5 L1657.8 996.5 L1658.0 998.5" stroke="#2e2eff" stroke-dasharray="32 11 7.5 11" stroke-dashoffset="57"/>
<path d="M206.5 252.0 L215.0 238.0 L222.5 226.0 L223.1 227.9 L223.6 229.8 L224.2 231.7 L224.8 233.6 L225.4 235.5 L225.9 237.4 L226.5 239.3 L227.1 241.3 L227.7 243.2 L228.3 245.1 L228.9 247.0 L229.4 248.9 L230.0 250.8 L230.6 252.7 L231.2 254.6 L231.8 256.5 L232.4 258.4 L233.0 260.3 L233.6 262.3 L234.2 264.2 L234.8 266.1 L235.4 268.0 L236.0 269.9 L236.5 271.8 L237.1 273.7 L237.7 275.6 L238.3 277.5 L238.9 279.4 L239.5 281.4 L240.1 283.3 L240.7 285.2 L241.3 287.1 L241.9 289.0 L242.5 290.9 L243.1 292.8 L243.7 294.7 L244.3 296.7 L244.9 298.6 L245.5 300.5 L246.1 302.4 L246.7 304.3 L247.3 306.2 L247.9 308.2 L248.5 310.1 L249.1 312.0 L249.7 313.9 L250.3 315.8 L250.9 317.7 L251.5 319.6 L252.1 321.6 L252.6 323.5 L253.2 325.4 L253.8 327.3 L254.4 329.2 L255.0 331.2 L255.6 333.1 L256.2 335.0 L256.8 336.9 L257.3 338.8 L257.9 340.8 L258.5 342.7 L259.1 344.6 L259.7 346.5 L260.2 348.4 L260.8 350.4 L261.4 352.3 L262.0 354.2 L262.5 356.1 L263.1 358.1 L263.7 360.0 L264.2 361.9 L264.8 363.8 L265.4 365.8 L265.9 367.7 L266.5 369.6 L267.0 371.5 L267.6 373.5 L268.1 375.4 L268.7 377.3 L269.2 379.3 L269.8 381.2 L270.3 383.1 L270.9 385.0 L271.4 387.0 L272.0 388.9 L272.5 390.8 L273.0 392.8 L273.6 394.7 L274.1 396.6 L274.6 398.6 L275.2 400.5 L275.7 402.4 L276.2 404.4 L276.8 406.3 L277.3 408.2 L277.8 410.2 L278.3 412.1 L278.8 414.0 L279.4 416.0 L279.9 417.9 L280.4 419.8 L280.9 421.8 L281.4 423.7 L282.0 425.6 L282.5 427.6 L283.0 429.5 L283.5 431.4 L284.0 433.4 L284.5 435.3 L285.0 437.2 L285.5 439.2 L286.1 441.1 L286.6 443.1 L287.1 445.0 L287.6 446.9 L288.1 448.9 L288.6 450.8 L289.1 452.7 L289.6 454.7 L290.1 456.6 L290.6 458.5 L291.1 460.5 L291.6 462.4 L292.1 464.4 L292.6 466.3 L293.1 468.2 L293.6 470.2 L294.1 472.1 L294.6 474.0 L295.1 476.0 L295.6 477.9 L296.1 479.8 L296.6 481.8 L297.1 483.7 L297.6 485.7 L298.1 487.6 L298.6 489.5 L299.1 491.5 L299.6 493.4 L300.1 495.3 L300.6 497.3 L301.1 499.2 L301.6 501.1 L302.1 503.1 L302.6 505.0 L303.1 506.9 L303.6 508.9 L304.1 510.8 L304.6 512.7 L305.2 514.7 L305.7 516.6 L306.2 518.5 L306.7 520.5 L307.2 522.4 L307.7 524.3 L308.2 526.3 L308.7 528.2 L309.2 530.1 L309.7 532.1 L310.2 534.0 L310.7 535.9 L311.3 537.8 L311.8 539.8 L312.3 541.7 L312.8 543.6 L313.3 545.6 L313.8 547.5 L314.4 549.4 L314.9 551.3 L315.4 553.3 L315.9 555.2 L316.4 557.1 L317.0 559.0 L317.5 561.0 L318.0 562.9 L318.6 564.8 L319.1 566.7 L319.6 568.7 L320.2 570.6 L320.7 572.5 L321.2 574.4 L321.8 576.3 L322.3 578.3 L322.8 580.2 L323.4 582.1 L323.9 584.0 L324.5 585.9 L325.0 587.9 L325.6 589.8 L326.1 591.7 L326.7 593.6 L327.2 595.5 L327.8 597.4 L328.4 599.4 L328.9 601.3 L329.5 603.2 L330.1 605.1 L330.6 607.0 L331.2 608.9 L331.8 610.8 L332.3 612.7 L332.9 614.6 L333.5 616.5 L334.1 618.5 L334.7 620.4 L335.2 622.3 L335.8 624.2 L336.4 626.1 L337.0 628.0 L337.6 629.9 L338.2 631.8 L338.8 633.7 L339.4 635.6 L340.0 637.5 L340.6 639.4 L341.2 641.3 L341.8 643.2 L342.5 645.1 L343.1 647.0 L343.7 648.9 L344.3 650.8 L345.0 652.7 L345.6 654.6 L346.2 656.4 L346.9 658.3 L347.5 660.2 L348.1 662.1 L348.8 664.0 L349.4 665.9 L350.1 667.8 L350.7 669.7 L351.4 671.5 L352.1 673.4 L352.7 675.3 L353.4 677.2 L354.1 679.1 L354.7 680.9 L355.4 682.8 L356.1 684.7 L356.8 686.6 L357.5 688.5 L358.2 690.3 L358.9 692.2 L359.6 694.1 L360.3 695.9 L361.0 697.8 L361.7 699.7 L362.4 701.6 L363.1 703.4 L363.8 705.3 L364.6 707.1 L365.3 709.0 L366.0 710.9 L366.8 712.7 L367.5 714.6 L368.3 716.5 L369.0 718.3 L369.8 720.2 L370.5 722.0 L371.3 723.9 L372.1 725.7 L372.8 727.6 L373.6 729.4 L374.4 731.3 L375.2 733.1 L375.9 735.0 L376.7 736.8 L377.5 738.7 L378.3 740.5 L379.1 742.4 L380.0 744.2 L380.8 746.0 L381.6 747.9 L382.4 749.7 L383.2 751.5 L384.1 753.4 L384.9 755.2 L385.7 757.0 L386.6 758.9 L387.4 760.7 L388.3 762.5 L389.2 764.3 L390.0 766.2 L390.9 768.0 L391.8 769.8 L392.6 771.6 L393.5 773.4 L394.4 775.3 L395.3 777.1 L396.2 778.9 L397.1 780.7 L398.0 782.5 L398.9 784.3 L399.8 786.1 L400.7 787.9 L401.7 789.7 L402.6 791.5 L403.5 793.3 L404.5 795.1 L405.4 796.9 L406.3 798.7 L407.3 800.5 L408.3 802.2 L409.2 804.0 L410.2 805.8 L411.1 807.6 L412.1 809.3 L413.1 811.1 L414.1 812.9 L415.1 814.7 L416.1 816.4 L417.1 818.2 L418.1 819.9 L419.1 821.7 L420.1 823.5 L421.1 825.2 L422.1 827.0 L423.1 828.7 L424.1 830.4 L425.2 832.2 L426.2 833.9 L427.3 835.7 L428.3 837.4 L429.4 839.1 L430.4 840.8 L431.5 842.6 L432.5 844.3 L433.6 846.0 L434.7 847.7 L435.8 849.4 L436.8 851.1 L437.9 852.8 L439.0 854.5 L440.1 856.2 L441.2 857.9 L442.3 859.6 L443.4 861.3 L444.5 863.0 L445.7 864.7 L446.8 866.4 L447.9 868.0 L449.1 869.7 L450.2 871.4 L451.3 873.0 L452.5 874.7 L453.6 876.4 L454.8 878.0 L456.0 879.7 L457.1 881.3 L458.3 882.9 L459.5 884.6 L460.6 886.2 L461.8 887.9 L463.0 889.5 L464.2 891.1 L465.4 892.7 L466.6 894.3 L467.8 896.0 L469.0 897.6 L470.2 899.2 L471.5 900.8 L472.7 902.4 L473.9 903.9 L475.2 905.5 L476.4 907.1 L477.6 908.7 L478.9 910.3 L480.1 911.8 L481.4 913.4 L482.7 915.0 L483.9 916.5 L485.2 918.1 L486.5 919.6 L487.8 921.2 L489.0 922.7 L490.3 924.3 L491.6 925.8 L492.9 927.3 L494.2 928.8 L495.5 930.3 L496.8 931.9 L498.2 933.4 L499.5 934.9 L500.8 936.4 L502.1 937.9 L503.5 939.3 L504.8 940.8 L506.2 942.3 L507.5 943.8 L508.9 945.3 L510.2 946.7 L511.6 948.2 L513.0 949.6 L514.3 951.1 L515.7 952.5 L517.1 954.0 L518.5 955.4 L519.9 956.8 L521.3 958.2 L522.7 959.7 L524.1 961.1 L525.5 962.5 L526.9 963.9 L528.3 965.3 L529.8 966.7 L531.2 968.1 L532.6 969.4 L534.1 970.8 L535.5 972.2 L537.0 973.5 L538.4 974.9 L539.9 976.3 L541.3 977.6 L542.8 978.9 L544.3 980.3 L545.7 981.6 L547.2 982.9 L548.7 984.2 L550.2 985.6 L551.7 986.9 L553.2 988.2 L554.7 989.5 L556.2 990.7 L557.7 992.0 L559.2 993.3 L560.8 994.6 L562.3 995.8 L563.8 997.1 L565.4 998.3 L566.9 999.6 L568.5 1000.8 L570.0 1002.1 L571.6 1003.3 L573.1 1004.5 L574.7 1005.7 L576.3 1007.0 L577.8 1008.2 L579.4 1009.4 L581.0 1010.6 L582.6 1011.7 L584.2 1012.9 L585.8 1014.1 L587.4 1015.3 L589.0 1016.4 L590.6 1017.6 L592.2 1018.8 L593.8 1019.9 L595.4 1021.0 L597.0 1022.2 L598.7 1023.3 L600.3 1024.4 L601.9 1025.6 L603.6 1026.7 L605.2 1027.8 L606.8 1028.9 L608.5 1030.0 L610.2 1031.1 L611.8 1032.2 L613.5 1033.3 L615.1 1034.4 L616.8 1035.4 L618.5 1036.5 L620.2 1037.6 L621.8 1038.6 L623.5 1039.7 L625.2 1040.7 L626.9 1041.8 L628.6 1042.8 L630.3 1043.8 L632.0 1044.9 L633.7 1045.9 L635.4 1046.9 L637.1 1047.9 L638.8 1048.9 L640.5 1049.9 L642.3 1050.9 L644.0 1051.9 L645.7 1052.9 L647.5 1053.9 L649.2 1054.9 L650.9 1055.9 L652.7 1056.8 L654.4 1057.8 L656.2 1058.8 L657.9 1059.7 L659.7 1060.7 L661.4 1061.6 L663.2 1062.6 L664.9 1063.5 L666.7 1064.4 L668.5 1065.4 L670.2 1066.3 L672.0 1067.2 L673.8 1068.1 L675.6 1069.0 L677.3 1069.9 L679.1 1070.8 L680.9 1071.7 L682.7 1072.6 L684.5 1073.5 L686.3 1074.4 L688.1 1075.3 L689.9 1076.1 L691.7 1077.0 L693.5 1077.9 L695.3 1078.8 L697.1 1079.6 L698.9 1080.5 L700.7 1081.3 L702.6 1082.2 L704.4 1083.0 L706.2 1083.8 L708.0 1084.7 L709.9 1085.5 L711.7 1086.3 L713.5 1087.2 L715.4 1088.0 L717.2 1088.8 L719.0 1089.6 L720.9 1090.4 L722.7 1091.2 L724.6 1092.0 L726.4 1092.8 L728.2 1093.6 L730.1 1094.4 L732.0 1095.2 L733.8 1095.9 L735.7 1096.7 L737.5 1097.5 L739.4 1098.3 L741.2 1099.0 L743.1 1099.8 L745.0 1100.5 L746.8 1101.3 L748.7 1102.0 L750.6 1102.8 L752.4 1103.5 L754.3 1104.3 L756.2 1105.0 L758.1 1105.7 L759.9 1106.5 L761.8 1107.2 L763.7 1107.9 L765.6 1108.6 L767.5 1109.4 L769.4 1110.1 L771.2 1110.8 L773.1 1111.5 L775.0 1112.2 L776.9 1112.9 L778.8 1113.6 L780.7 1114.3 L782.6 1115.0 L784.5 1115.6 L786.4 1116.3 L788.3 1117.0 L790.2 1117.7 L792.1 1118.4 L794.0 1119.0 L795.9 1119.7 L797.8 1120.4 L799.7 1121.0 L801.6 1121.7 L803.5 1122.3 L805.4 1123.0 L807.3 1123.6 L809.2 1124.3 L811.1 1124.9 L813.0 1125.6 L815.0 1126.2 L816.9 1126.9 L818.8 1127.5 L820.7 1128.1 L822.6 1128.7 L824.5 1129.4 L826.4 1130.0 L828.4 1130.6 L830.3 1131.2 L832.2 1131.8 L834.1 1132.5 L836.0 1133.1 L837.9 1133.7 L839.9 1134.3 L841.8 1134.9 L843.7 1135.5 L845.6 1136.1 L847.5 1136.7 L849.5 1137.3 L851.4 1137.9 L853.3 1138.4 L855.2 1139.0 L857.2 1139.6 L859.1 1140.2 L861.0 1140.8 L862.9 1141.3 L864.9 1141.9 L866.8 1142.5 L868.7 1143.0 L870.6 1143.6 L872.6 1144.2 L874.5 1144.7 L876.4 1145.3 L878.3 1145.8 L880.3 1146.4 L882.2 1146.9 L884.1 1147.5 L886.1 1148.0 L888.0 1148.5 L889.9 1149.1 L891.9 1149.6 L893.8 1150.2 L895.7 1150.7 L897.7 1151.2 L899.6 1151.7 L901.5 1152.3 L903.5 1152.8 L905.4 1153.3 L907.4 1153.8 L909.3 1154.3 L911.2 1154.8 L913.2 1155.3 L915.1 1155.8 L917.0 1156.3 L919.0 1156.8 L920.9 1157.3 L922.9 1157.8 L924.8 1158.3 L926.8 1158.8 L928.7 1159.3 L930.6 1159.8 L932.6 1160.3 L934.5 1160.8 L936.5 1161.2 L938.4 1161.7 L940.4 1162.2 L942.3 1162.7 L944.2 1163.1 L946.2 1163.6 L948.1 1164.0 L950.1 1164.5 L952.0 1165.0 L954.0 1165.4 L955.9 1165.9 L957.9 1166.3 L959.8 1166.8 L961.8 1167.2 L963.7 1167.7 L965.7 1168.1 L967.6 1168.5 L969.6 1169.0 L971.5 1169.4 L973.5 1169.8 L975.4 1170.3 L977.4 1170.7 L979.4 1171.1 L981.3 1171.5 L983.3 1172.0 L985.2 1172.4 L987.2 1172.8 L989.1 1173.2 L991.1 1173.6 L993.1 1174.0 L995.0 1174.4 L997.0 1174.8 L998.9 1175.2 L1000.9 1175.6 L1002.8 1176.0 L1004.8 1176.4 L1006.8 1176.8 L1008.7 1177.2 L1010.7 1177.6 L1012.6 1178.0 L1014.6 1178.4 L1016.6 1178.7 L1018.5 1179.1 L1020.5 1179.5 L1022.5 1179.9 L1024.4 1180.2 L1026.4 1180.6 L1028.4 1181.0 L1030.3 1181.3 L1032.3 1181.7 L1034.3 1182.1 L1036.2 1182.4 L1038.2 1182.8 L1040.2 1183.1 L1042.1 1183.5 L1044.1 1183.8 L1046.1 1184.2 L1048.0 1184.5 L1050.0 1184.8 L1052.0 1185.2 L1053.9 1185.5 L1055.9 1185.9 L1057.9 1186.2 L1059.8 1186.5 L1061.8 1186.8 L1063.8 1187.2 L1065.8 1187.5 L1067.7 1187.8 L1069.7 1188.1 L1071.7 1188.5 L1073.7 1188.8 L1075.6 1189.1 L1077.6 1189.4 L1079.6 1189.7 L1081.5 1190.0 L1083.5 1190.3 L1085.5 1190.6 L1087.5 1190.9 L1089.5 1191.2 L1091.4 1191.5 L1093.4 1191.8 L1095.4 1192.1 L1097.4 1192.4 L1099.3 1192.6 L1101.3 1192.9 L1103.3 1193.2 L1105.3 1193.5 L1107.3 1193.8 L1109.2 1194.0 L1111.2 1194.3 L1113.2 1194.6 L1115.2 1194.8 L1117.2 1195.1 L1119.1 1195.4 L1121.1 1195.6 L1123.1 1195.9 L1125.1 1196.2 L1127.1 1196.4 L1129.1 1196.7 L1131.0 1196.9 L1133.0 1197.2 L1135.0 1197.4 L1137.0 1197.7 L1139.0 1197.9 L1141.0 1198.1 L1142.9 1198.4 L1144.9 1198.6 L1146.9 1198.8 L1148.9 1199.1 L1150.9 1199.3 L1152.9 1199.5 L1154.9 1199.8 L1156.9 1200.0 L1158.8 1200.2 L1160.8 1200.4 L1162.8 1200.6 L1164.8 1200.9 L1166.8 1201.1 L1168.8 1201.3 L1170.8 1201.5 L1172.8 1201.7 L1174.8 1201.9 L1176.7 1202.1 L1178.7 1202.3 L1180.7 1202.5 L1182.7 1202.7 L1184.7 1202.9 L1186.7 1203.1 L1188.7 1203.3 L1190.7 1203.5 L1192.7 1203.6 L1194.7 1203.8 L1196.7 1204.0 L1198.7 1204.2 L1200.7 1204.4 L1202.6 1204.5 L1204.6 1204.7 L1206.6 1204.9 L1208.6 1205.1 L1210.6 1205.2 L1212.6 1205.4 L1214.6 1205.6 L1216.6 1205.7 L1218.6 1205.9 L1220.6 1206.0 L1222.6 1206.2 L1224.6 1206.3 L1226.6 1206.5 L1228.6 1206.6 L1230.6 1206.8 L1232.6 1206.9 L1234.6 1207.1 L1236.6 1207.2 L1238.6 1207.4 L1240.6 1207.5 L1242.6 1207.6 L1244.6 1207.8 L1246.6 1207.9 L1248.6 1208.0 L1250.6 1208.2 L1252.6 1208.3 L1254.6 1208.4 L1256.6 1208.5 L1258.6 1208.7 L1260.6 1208.8 L1262.6 1208.9 L1264.6 1209.0 L1266.6 1209.1 L1268.6 1209.2 L1270.6 1209.3 L1272.6 1209.5 L1274.6 1209.6 L1276.6 1209.7 L1278.6 1209.8 L1280.6 1209.9 L1282.6 1210.0 L1284.6 1210.1 L1286.6 1210.2 L1288.6 1210.2 L1290.6 1210.3 L1292.6 1210.4 L1294.6 1210.5 L1296.7 1210.6 L1298.7 1210.7 L1300.7 1210.8 L1302.7 1210.8 L1304.7 1210.9 L1306.7 1211.0 L1308.7 1211.1 L1310.7 1211.1 L1312.7 1211.2 L1314.7 1211.3 L1316.7 1211.3 L1318.7 1211.4 L1320.7 1211.4 L1322.7 1211.5 L1324.7 1211.5 L1326.7 1211.6 L1328.7 1211.6 L1330.8 1211.7 L1332.8 1211.7 L1334.8 1211.7 L1336.8 1211.7 L1338.8 1211.8 L1340.8 1211.8 L1342.8 1211.8 L1344.8 1211.8 L1346.8 1211.8 L1348.8 1211.8 L1350.8 1211.8 L1352.8 1211.7 L1354.8 1211.7 L1356.8 1211.7 L1358.8 1211.6 L1360.8 1211.6 L1362.8 1211.5 L1364.8 1211.5 L1366.8 1211.4 L1368.8 1211.3 L1370.8 1211.3 L1372.8 1211.2 L1374.8 1211.1 L1376.8 1211.0 L1378.8 1210.9 L1380.8 1210.7 L1382.8 1210.6 L1384.8 1210.5 L1386.8 1210.3 L1388.8 1210.2 L1390.8 1210.0 L1392.8 1209.8 L1394.7 1209.7 L1396.7 1209.5 L1398.7 1209.3 L1400.7 1209.1 L1402.7 1208.8 L1404.7 1208.6 L1406.7 1208.4 L1408.7 1208.1 L1410.6 1207.8 L1412.6 1207.6 L1414.6 1207.3 L1416.6 1207.0 L1418.6 1206.7 L1420.5 1206.4 L1422.5 1206.0 L1424.5 1205.7 L1426.5 1205.3 L1428.4 1205.0 L1430.4 1204.6 L1432.4 1204.2 L1434.3 1203.8 L1436.3 1203.4 L1438.3 1202.9 L1440.2 1202.5 L1442.2 1202.0 L1444.1 1201.6 L1446.1 1201.1 L1448.1 1200.6 L1450.0 1200.1 L1452.0 1199.5 L1453.9 1199.0 L1455.9 1198.5 L1457.8 1197.9 L1459.8 1197.3 L1461.7 1196.7 L1463.7 1196.1 L1465.6 1195.5 L1467.6 1194.8 L1469.5 1194.2 L1471.4 1193.5 L1473.3 1192.8 L1475.2 1192.1 L1477.2 1191.4 L1479.1 1190.6 L1481.0 1189.9 L1482.8 1189.1 L1484.7 1188.3 L1486.6 1187.5 L1488.5 1186.6 L1490.3 1185.8 L1492.1 1184.9 L1494.0 1184.1 L1495.8 1183.2 L1497.6 1182.2 L1499.4 1181.3 L1501.1 1180.4 L1502.9 1179.4 L1504.6 1178.4 L1506.4 1177.4 L1508.1 1176.3 L1509.8 1175.3 L1511.5 1174.2 L1513.1 1173.1 L1514.8 1172.0 L1516.4 1170.9 L1518.0 1169.7 L1519.6 1168.6 L1521.2 1167.4 L1522.7 1166.2 L1524.2 1164.9 L1525.7 1163.7 L1527.2 1162.4 L1528.7 1161.1 L1530.1 1159.8 L1531.5 1158.4 L1532.9 1157.1 L1534.3 1155.7 L1535.7 1154.3 L1537.0 1152.9 L1538.3 1151.5 L1539.6 1150.0 L1540.9 1148.5 L1542.1 1147.0 L1543.4 1145.5 L1544.6 1144.0 L1545.8 1142.5 L1547.0 1140.9 L1548.1 1139.4 L1549.3 1137.8 L1550.4 1136.2 L1551.5 1134.6 L1552.6 1132.9 L1553.7 1131.3 L1554.7 1129.6 L1555.8 1128.0 L1556.8 1126.3 L1557.8 1124.6 L1558.8 1122.9 L1559.8 1121.1 L1560.7 1119.4 L1561.7 1117.7 L1562.6 1115.9 L1563.5 1114.1 L1564.4 1112.4 L1565.3 1110.6 L1566.2 1108.8 L1567.0 1107.0 L1567.9 1105.2 L1568.7 1103.3 L1569.5 1101.5 L1570.3 1099.6 L1571.1 1097.8 L1571.8 1095.9 L1572.6 1094.1 L1573.4 1092.2 L1574.1 1090.3 L1574.8 1088.4 L1575.5 1086.5 L1576.2 1084.7 L1576.9 1082.8 L1577.6 1080.8 L1578.2 1078.9 L1578.9 1077.0 L1579.5 1075.1 L1580.2 1073.2 L1580.8 1071.2 L1581.4 1069.3 L1582.0 1067.4 L1582.6 1065.5 L1583.2 1063.5 L1583.8 1061.6 L1584.3 1059.6 L1584.9 1057.7 L1585.4 1055.8 L1586.0 1053.8 L1586.5 1051.9 L1587.0 1049.9 L1587.5 1048.0 L1588.1 1046.0 L1588.6 1044.1 L1589.0 1042.1 L1589.5 1040.2 L1590.0 1038.2 L1590.5 1036.3 L1590.9 1034.3 L1591.4 1032.3 L1591.8 1030.4 L1592.3 1028.4 L1592.7 1026.5 L1593.1 1024.5 L1593.5 1022.5 L1593.9 1020.6 L1594.3 1018.6 L1594.7 1016.7 L1595.1 1014.7 L1595.5 1012.7 L1595.9 1010.8 L1596.3 1008.8 L1596.6 1006.8 L1597.0 1004.8 L1597.3 1002.9 L1597.7 1000.9 L1598.0 998.9 L1598.4 997.0 L1598.7 995.0 L1599.0 993.0 L1599.3 991.0 L1599.7 989.1 L1600.0 987.1 L1600.3 985.1 L1600.6 983.1 L1600.9 981.1 L1601.2 979.2 L1601.5 977.2 L1601.7 975.2 L1602.0 973.2 L1602.3 971.2 L1602.6 969.2 L1602.8 967.3 L1603.1 965.3 L1603.3 963.3 L1603.6 961.3 L1603.9 959.3 L1604.1 957.3 L1604.3 955.3 L1604.6 953.4 L1604.8 951.4 L1605.1 949.4 L1605.3 947.4 L1605.5 945.4 L1605.8 943.4 L1606.0 941.4 L1606.2 939.4 L1606.4 937.4 L1606.6 935.4 L1606.9 933.5 L1607.1 931.5 L1607.3 929.5 L1607.5 927.5 L1607.7 925.5 L1607.9 923.5 L1608.1 921.5 L1608.3 919.5 L1608.5 917.5 L1608.7 915.5 L1608.9 913.5 L1609.1 911.5 L1609.3 909.5 L1609.5 907.5 L1609.7 905.6 L1609.9 903.6 L1610.1 901.6 L1610.3 899.6 L1610.5 897.6 L1610.7 895.6 L1610.9 893.6 L1611.1 891.6 L1611.3 889.6 L1611.5 887.6 L1611.7 885.6 L1611.9 883.6 L1612.1 881.6 L1612.3 879.6 L1612.5 877.6 L1612.7 875.7 L1612.9 873.7 L1613.1 871.7 L1613.3 869.7 L1613.5 867.7 L1613.7 865.7 L1613.9 863.7 L1614.2 861.7 L1614.4 859.7 L1614.6 857.7 L1614.8 855.7 L1615.0 853.8 L1615.2 851.8 L1615.4 849.8 L1615.7 847.8 L1615.9 845.8 L1616.1 843.8 L1616.3 841.8 L1616.5 839.8 L1616.8 837.8 L1617.0 835.9 L1617.2 833.9 L1617.4 831.9 L1617.7 829.9 L1617.9 827.9 L1618.1 825.9 L1618.3 823.9 L1618.6 821.9 L1618.8 820.0 L1619.0 818.0 L1619.3 816.0 L1619.5 814.0 L1619.7 812.0 L1620.0 810.0 L1620.2 808.0 L1620.4 806.1 L1620.7 804.1 L1620.9 802.1 L1621.2 800.1 L1621.4 798.1 L1621.7 796.1 L1621.9 794.1 L1622.1 792.2 L1622.4 790.2 L1622.6 788.2 L1622.9 786.2 L1623.1 784.2 L1623.4 782.2 L1623.6 780.2 L1623.9 778.3 L1624.2 776.3 L1624.4 774.3 L1624.7 772.3 L1624.9 770.3 L1625.2 768.3 L1625.4 766.4 L1625.7 764.4 L1626.0 762.4 L1626.2 760.4 L1626.5 758.4 L1626.8 756.4 L1627.0 754.5 L1627.3 752.5 L1627.6 750.5 L1627.8 748.5 L1628.1 746.5 L1628.4 744.5 L1628.6 742.6 L1628.9 740.6 L1629.2 738.6 L1629.5 736.6 L1629.7 734.6 L1630.0 732.7 L1630.3 730.7 L1630.6 728.7 L1630.9 726.7 L1631.1 724.7 L1631.4 722.7 L1631.7 720.8 L1632.0 718.8 L1632.3 716.8 L1632.6 714.8 L1632.9 712.8 L1633.1 710.9 L1633.4 708.9 L1633.7 706.9 L1634.0 704.9 L1634.3 702.9 L1634.6 700.9 L1634.9 699.0 L1635.2 697.0 L1635.5 695.0 L1639.5 694.0 L1639.9 696.0 L1640.2 698.0 L1640.5 700.0 L1640.9 701.9 L1641.2 703.9 L1641.5 705.9 L1641.8 707.9 L1642.1 709.9 L1642.4 711.9 L1642.7 713.9 L1643.0 715.9 L1643.3 717.9 L1643.6 719.8 L1643.8 721.8 L1644.1 723.8 L1644.4 725.8 L1644.6 727.8 L1644.9 729.8 L1645.1 731.8 L1645.3 733.8 L1645.6 735.8 L1645.8 737.8 L1646.0 739.8 L1646.2 741.8 L1646.5 743.8 L1646.7 745.8 L1646.9 747.8 L1647.1 749.8 L1647.3 751.8 L1647.5 753.8 L1647.6 755.8 L1647.8 757.8 L1648.0 759.9 L1648.2 761.9 L1648.3 763.9 L1648.5 765.9 L1648.7 767.9 L1648.8 769.9 L1649.0 771.9 L1649.1 773.9 L1649.3 775.9 L1649.4 777.9 L1649.5 779.9 L1649.7 782.0 L1649.8 784.0 L1649.9 786.0 L1650.1 788.0 L1650.2 790.0 L1650.3 792.0 L1650.4 794.0 L1650.5 796.1 L1650.6 798.1 L1650.7 800.1 L1650.8 802.1 L1650.9 804.1 L1651.0 806.1 L1651.1 808.2 L1651.2 810.2 L1651.3 812.2 L1651.4 814.2 L1651.5 816.2 L1651.6 818.2 L1651.6 820.3 L1651.7 822.3 L1651.8 824.3 L1651.9 826.3 L1651.9 828.3 L1652.0 830.4 L1652.1 832.4 L1652.1 834.4 L1652.2 836.4 L1652.3 838.4 L1652.3 840.5 L1652.4 842.5 L1652.4 844.5 L1652.5 846.5 L1652.6 848.6 L1652.6 850.6 L1652.7 852.6 L1652.7 854.6 L1652.8 856.6 L1652.8 858.7 L1652.9 860.7 L1652.9 862.7 L1653.0 864.7 L1653.0 866.8 L1653.1 868.8 L1653.1 870.8 L1653.2 872.8 L1653.2 874.9 L1653.3 876.9 L1653.3 878.9 L1653.4 880.9 L1653.4 883.0 L1653.5 885.0 L1653.5 887.0 L1653.5 889.0 L1653.6 891.0 L1653.6 893.1 L1653.7 895.1 L1653.7 897.1 L1653.8 899.1 L1653.8 901.2 L1653.9 903.2 L1653.9 905.2 L1654.0 907.2 L1654.0 909.3 L1654.1 911.3 L1654.2 913.3 L1654.2 915.3 L1654.3 917.3 L1654.3 919.4 L1654.4 921.4 L1654.4 923.4 L1654.5 925.4 L1654.6 927.5 L1654.6 929.5 L1654.7 931.5 L1654.8 933.5 L1654.8 935.5 L1654.9 937.6 L1655.0 939.6 L1655.1 941.6 L1655.1 943.6 L1655.2 945.6 L1655.3 947.7 L1655.4 949.7 L1655.5 951.7 L1655.6 953.7 L1655.7 955.7 L1655.8 957.7 L1655.9 959.8 L1656.0 961.8 L1656.1 963.8 L1656.2 965.8 L1656.3 967.8 L1656.4 969.8 L1656.5 971.8 L1656.6 973.9 L1656.8 975.9 L1656.9 977.9 L1657.0 979.9 L1657.1 981.9 L1657.3 983.9 L1657.4 985.9 L1657.6 987.9 L1657.7 990.0 L1657.9 992.0 L1658.0 994.0 L1658.2 996.0 L1658.3 998.0 L1658.5 1000.0" stroke="#ff8000" stroke-dasharray="29.5 6.5 6 7 6 6.5" stroke-dashoffset="60"/>
</g>
<g stroke="#000" fill="none">
<line x1="206.5" y1="1418.50" x2="237.5" y2="1418.50" stroke-width="7"/>
<line x1="206.5" y1="1363.46" x2="226" y2="1363.46" stroke-width="2"/>
<line x1="206.5" y1="1308.42" x2="226" y2="1308.42" stroke-width="2"/>
<line x1="206.5" y1="1253.38" x2="226" y2="1253.38" stroke-width="2"/>
<line x1="206.5" y1="1198.33" x2="237.5" y2="1198.33" stroke-width="7"/>
<line x1="206.5" y1="1143.29" x2="226" y2="1143.29" stroke-width="2"/>
<line x1="206.5" y1="1088.25" x2="226" y2="1088.25" stroke-width="2"/>
<line x1="206.5" y1="1033.21" x2="226" y2="1033.21" stroke-width="2"/>
<line x1="206.5" y1="978.17" x2="237.5" y2="978.17" stroke-width="7"/>
<line x1="206.5" y1="923.12" x2="226" y2="923.12" stroke-width="2"/>
<line x1="206.5" y1="868.08" x2="226" y2="868.08" stroke-width="2"/>
<line x1="206.5" y1="813.04" x2="226" y2="813.04" stroke-width="2"/>
<line x1="206.5" y1="758.00" x2="237.5" y2="758.00" stroke-width="7"/>
<line x1="206.5" y1="702.96" x2="226" y2="702.96" stroke-width="2"/>
<line x1="206.5" y1="647.92" x2="226" y2="647.92" stroke-width="2"/>
<line x1="206.5" y1="592.88" x2="226" y2="592.88" stroke-width="2"/>
<line x1="206.5" y1="537.83" x2="237.5" y2="537.83" stroke-width="7"/>
<line x1="206.5" y1="482.79" x2="226" y2="482.79" stroke-width="2"/>
<line x1="206.5" y1="427.75" x2="226" y2="427.75" stroke-width="2"/>
<line x1="206.5" y1="372.71" x2="226" y2="372.71" stroke-width="2"/>
<line x1="206.5" y1="317.67" x2="237.5" y2="317.67" stroke-width="7"/>
<line x1="206.5" y1="262.62" x2="226" y2="262.62" stroke-width="2"/>
<line x1="206.5" y1="207.58" x2="226" y2="207.58" stroke-width="2"/>
<line x1="206.5" y1="152.54" x2="226" y2="152.54" stroke-width="2"/>
<line x1="206.5" y1="97.50" x2="237.5" y2="97.50" stroke-width="7"/>
<line x1="206.50" y1="1418.5" x2="206.50" y2="1387" stroke-width="7"/>
<line x1="279.10" y1="1418.5" x2="279.10" y2="1400" stroke-width="2"/>
<line x1="351.70" y1="1418.5" x2="351.70" y2="1400" stroke-width="2"/>
<line x1="424.30" y1="1418.5" x2="424.30" y2="1400" stroke-width="2"/>
<line x1="496.90" y1="1418.5" x2="496.90" y2="1387" stroke-width="7"/>
<line x1="569.50" y1="1418.5" x2="569.50" y2="1400" stroke-width="2"/>
<line x1="642.10" y1="1418.5" x2="642.10" y2="1400" stroke-width="2"/>
<line x1="714.70" y1="1418.5" x2="714.70" y2="1400" stroke-width="2"/>
<line x1="787.30" y1="1418.5" x2="787.30" y2="1387" stroke-width="7"/>
<line x1="859.90" y1="1418.5" x2="859.90" y2="1400" stroke-width="2"/>
<line x1="932.50" y1="1418.5" x2="932.50" y2="1400" stroke-width="2"/>
<line x1="1005.10" y1="1418.5" x2="1005.10" y2="1400" stroke-width="2"/>
<line x1="1077.70" y1="1418.5" x2="1077.70" y2="1387" stroke-width="7"/>
<line x1="1150.30" y1="1418.5" x2="1150.30" y2="1400" stroke-width="2"/>
<line x1="1222.90" y1="1418.5" x2="1222.90" y2="1400" stroke-width="2"/>
<line x1="1295.50" y1="1418.5" x2="1295.50" y2="1400" stroke-width="2"/>
<line x1="1368.10" y1="1418.5" x2="1368.10" y2="1387" stroke-width="7"/>
<line x1="1440.70" y1="1418.5" x2="1440.70" y2="1400" stroke-width="2"/>
<line x1="1513.30" y1="1418.5" x2="1513.30" y2="1400" stroke-width="2"/>
<line x1="1585.90" y1="1418.5" x2="1585.90" y2="1400" stroke-width="2"/>
<line x1="1658.50" y1="1418.5" x2="1658.50" y2="1387" stroke-width="7"/>
<rect x="206.5" y="97.5" width="1452" height="1321" stroke-width="7" stroke-linejoin="miter"/>
</g>
<g class="tl">
<text x="187" y="1446.0" text-anchor="end">2</text>
<text x="187" y="1225.8" text-anchor="end">4</text>
<text x="187" y="1005.7" text-anchor="end">6</text>
<text x="187" y="785.5" text-anchor="end">8</text>
<text x="187" y="565.3" text-anchor="end">10</text>
<text x="187" y="345.2" text-anchor="end">12</text>
<text x="187" y="125.0" text-anchor="end">14</text>
<text x="206.5" y="1488" text-anchor="middle">0</text>
<text x="496.9" y="1488" text-anchor="middle">0.2</text>
<text x="787.3" y="1488" text-anchor="middle">0.4</text>
<text x="1077.7" y="1488" text-anchor="middle">0.6</text>
<text x="1368.1" y="1488" text-anchor="middle">0.8</text>
<text x="1658.5" y="1488" text-anchor="middle">1</text>
</g>
<text class="ax" x="932.5" y="1565" text-anchor="middle" letter-spacing="2">x/L</text>
<g transform="translate(0,806) rotate(-90)" fill="#000">
<text transform="translate(59,102) scale(-0.945,1)" font-family="DejaVu Math TeX Gyre, DejaVu Serif, serif" font-size="106">γ</text>
<text transform="translate(2.6,108) scale(0.857,1)" font-family="DejaVu Sans, sans-serif" font-weight="bold" font-size="100">˙</text>
<text transform="translate(46,109.8) scale(1,1.243)" font-family="Liberation Serif, serif" font-weight="bold" font-size="100">*</text>
</g>
<g stroke-width="7" fill="none">
<line x1="723" y1="330.5" x2="1012" y2="330.5" stroke="#d00000"/>
<line x1="723" y1="407.5" x2="1012" y2="407.5" stroke="#00d000" stroke-dasharray="32 29.5"/>
<line x1="723" y1="484" x2="1012" y2="484" stroke="#2e2eff" stroke-dasharray="32 11 7.5 11"/>
<line x1="723" y1="560.5" x2="1012" y2="560.5" stroke="#ff8000" stroke-dasharray="29.5 6.5 6 7 6 6.5"/>
</g>
<g class="lg">
<text x="1060" y="349.5"><tspan letter-spacing="-0.6">Newtonian</tspan> <tspan font-style="italic">Wi</tspan><tspan dy="4.5">=</tspan><tspan dy="-4.5">0</tspan></text>
<text x="1059.5" y="426.3"><tspan letter-spacing="-0.85">Giesekus</tspan> <tspan font-style="italic">Wi</tspan><tspan dy="4.5">=</tspan><tspan dy="-4.5">0.2</tspan></text>
<text x="1059.5" y="503.3"><tspan letter-spacing="-0.85">Giesekus</tspan> <tspan font-style="italic">Wi</tspan><tspan dy="4.5">=</tspan><tspan dy="-4.5">0.6</tspan></text>
<text x="1059.5" y="580.3"><tspan letter-spacing="-0.85">Giesekus</tspan> <tspan font-style="italic">Wi</tspan><tspan dy="4.5">=</tspan><tspan dy="-4.5">1.0</tspan></text>
</g>
</svg>
</body></html>
